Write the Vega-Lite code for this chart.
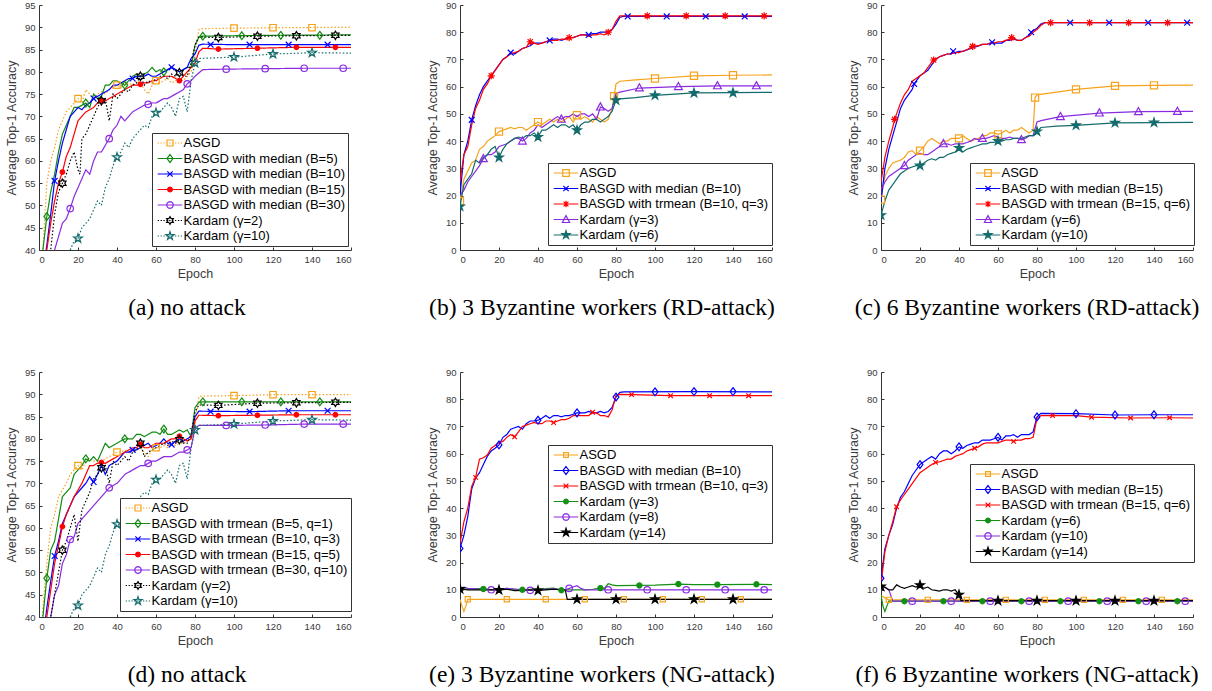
{
"$schema":"https://vega.github.io/schema/vega-lite/v6.json",
"background":"white",
"padding":{"left":5,"top":0,"right":5,"bottom":5},
"config":{"view":{"stroke":null},
"axis":{"labelFont":"Liberation Sans","labelFontSize":9.5,"labelColor":"#3a3a3a","titleFont":"Liberation Sans","titleFontSize":12.5,"titleFontWeight":"normal","titleColor":"#3a3a3a","domainColor":"#333","tickColor":"#333","tickSize":-3,"grid":false,"labelPadding":7,"titlePadding":4},
"axisY":{"titlePadding":6},
"legend":{"labelFont":"Liberation Sans","labelFontSize":13,"labelColor":"#000","labelLimit":400,"strokeColor":"#333","fillColor":"#fff","padding":3,"symbolSize":144,"symbolStrokeWidth":1.2,"rowPadding":1.5,"symbolOffset":8,"labelOffset":6.5,"orient":"none","symbolOpacity":1},
"title":{"font":"Liberation Serif","fontSize":23.5,"fontWeight":"normal","color":"#000"}},
"datasets":{
"a":[
{"s":"A","x":1,"y":30},{"s":"A","x":2,"y":40},{"s":"A","x":4,"y":55},{"s":"A","x":6,"y":60},{"s":"A","x":8,"y":63},{"s":"A","x":10,"y":67},{"s":"A","x":12,"y":69},{"s":"A","x":14,"y":71},{"s":"A","x":16,"y":72},{"s":"A","x":18,"y":73},{"s":"A","x":20,"y":74},{"s":"A","x":22,"y":73},{"s":"A","x":24,"y":76},{"s":"A","x":26,"y":75},{"s":"A","x":28,"y":74},{"s":"A","x":30,"y":75},{"s":"A","x":32,"y":75.5},{"s":"A","x":34,"y":75},{"s":"A","x":36,"y":76},{"s":"A","x":38,"y":76.5},{"s":"A","x":40,"y":77},{"s":"A","x":42,"y":76.5},{"s":"A","x":44,"y":77},{"s":"A","x":46,"y":77.5},{"s":"A","x":48,"y":77},{"s":"A","x":50,"y":78},{"s":"A","x":52,"y":77.5},{"s":"A","x":54,"y":76},{"s":"A","x":56,"y":75},{"s":"A","x":58,"y":77},{"s":"A","x":60,"y":78},{"s":"A","x":62,"y":77.5},{"s":"A","x":64,"y":78},{"s":"A","x":66,"y":78.5},{"s":"A","x":68,"y":77.5},{"s":"A","x":70,"y":78},{"s":"A","x":72,"y":78.5},{"s":"A","x":74,"y":78},{"s":"A","x":76,"y":79},{"s":"A","x":78,"y":80},{"s":"A","x":80,"y":84},{"s":"A","x":82,"y":89.5},{"s":"A","x":84,"y":89.7},{"s":"A","x":100,"y":89.8},{"s":"A","x":120,"y":89.9},{"s":"A","x":160,"y":90},
{"s":"m5","x":0,"y":30},{"s":"m5","x":2,"y":40},{"s":"m5","x":4,"y":47.5},{"s":"m5","x":6,"y":53},{"s":"m5","x":8,"y":57},{"s":"m5","x":10,"y":62},{"s":"m5","x":12,"y":66},{"s":"m5","x":14,"y":68},{"s":"m5","x":16,"y":70},{"s":"m5","x":18,"y":72},{"s":"m5","x":20,"y":72},{"s":"m5","x":22,"y":72.5},{"s":"m5","x":24,"y":73},{"s":"m5","x":26,"y":72},{"s":"m5","x":28,"y":75},{"s":"m5","x":30,"y":74},{"s":"m5","x":32,"y":74.5},{"s":"m5","x":34,"y":77},{"s":"m5","x":36,"y":77},{"s":"m5","x":38,"y":78},{"s":"m5","x":40,"y":78},{"s":"m5","x":42,"y":77.5},{"s":"m5","x":44,"y":77},{"s":"m5","x":46,"y":78},{"s":"m5","x":48,"y":79},{"s":"m5","x":50,"y":79.5},{"s":"m5","x":52,"y":79},{"s":"m5","x":54,"y":79.5},{"s":"m5","x":56,"y":80},{"s":"m5","x":58,"y":81},{"s":"m5","x":60,"y":80},{"s":"m5","x":62,"y":80.5},{"s":"m5","x":64,"y":80},{"s":"m5","x":66,"y":80.5},{"s":"m5","x":68,"y":81},{"s":"m5","x":70,"y":80.5},{"s":"m5","x":72,"y":80},{"s":"m5","x":74,"y":80.5},{"s":"m5","x":76,"y":81},{"s":"m5","x":78,"y":81},{"s":"m5","x":80,"y":86},{"s":"m5","x":82,"y":87.8},{"s":"m5","x":84,"y":88},{"s":"m5","x":100,"y":88.1},{"s":"m5","x":120,"y":88.2},{"s":"m5","x":160,"y":88.3},
{"s":"m10","x":2,"y":35},{"s":"m10","x":4,"y":41},{"s":"m10","x":6,"y":48},{"s":"m10","x":8,"y":55.5},{"s":"m10","x":10,"y":60},{"s":"m10","x":12,"y":64},{"s":"m10","x":14,"y":67},{"s":"m10","x":16,"y":70},{"s":"m10","x":18,"y":71},{"s":"m10","x":20,"y":72},{"s":"m10","x":22,"y":71.5},{"s":"m10","x":24,"y":72.5},{"s":"m10","x":26,"y":73},{"s":"m10","x":28,"y":74},{"s":"m10","x":30,"y":74.5},{"s":"m10","x":32,"y":75},{"s":"m10","x":34,"y":75.5},{"s":"m10","x":36,"y":76},{"s":"m10","x":38,"y":77},{"s":"m10","x":40,"y":77},{"s":"m10","x":42,"y":77.5},{"s":"m10","x":44,"y":78},{"s":"m10","x":46,"y":78.5},{"s":"m10","x":48,"y":78.5},{"s":"m10","x":50,"y":79},{"s":"m10","x":52,"y":79},{"s":"m10","x":54,"y":79},{"s":"m10","x":56,"y":79.5},{"s":"m10","x":58,"y":79},{"s":"m10","x":60,"y":79},{"s":"m10","x":62,"y":79.5},{"s":"m10","x":64,"y":80},{"s":"m10","x":66,"y":80.5},{"s":"m10","x":68,"y":81},{"s":"m10","x":70,"y":80.5},{"s":"m10","x":72,"y":80},{"s":"m10","x":74,"y":80.5},{"s":"m10","x":76,"y":81},{"s":"m10","x":78,"y":83},{"s":"m10","x":80,"y":84},{"s":"m10","x":82,"y":86},{"s":"m10","x":84,"y":86.2},{"s":"m10","x":100,"y":86.1},{"s":"m10","x":160,"y":86.1},
{"s":"m15","x":2,"y":32},{"s":"m15","x":4,"y":40},{"s":"m15","x":6,"y":46},{"s":"m15","x":8,"y":51},{"s":"m15","x":10,"y":55},{"s":"m15","x":12,"y":57.5},{"s":"m15","x":14,"y":61},{"s":"m15","x":16,"y":63},{"s":"m15","x":18,"y":66},{"s":"m15","x":20,"y":69},{"s":"m15","x":22,"y":70},{"s":"m15","x":24,"y":71},{"s":"m15","x":26,"y":71.5},{"s":"m15","x":28,"y":72},{"s":"m15","x":30,"y":73},{"s":"m15","x":32,"y":73.5},{"s":"m15","x":34,"y":73.5},{"s":"m15","x":36,"y":74},{"s":"m15","x":38,"y":74.5},{"s":"m15","x":40,"y":75},{"s":"m15","x":42,"y":75.5},{"s":"m15","x":44,"y":76},{"s":"m15","x":46,"y":76.5},{"s":"m15","x":48,"y":77},{"s":"m15","x":50,"y":77},{"s":"m15","x":52,"y":77.2},{"s":"m15","x":54,"y":77.5},{"s":"m15","x":56,"y":77.5},{"s":"m15","x":58,"y":78},{"s":"m15","x":60,"y":78},{"s":"m15","x":62,"y":78.5},{"s":"m15","x":64,"y":79},{"s":"m15","x":66,"y":79},{"s":"m15","x":68,"y":79},{"s":"m15","x":70,"y":78.5},{"s":"m15","x":72,"y":78},{"s":"m15","x":74,"y":79},{"s":"m15","x":76,"y":80},{"s":"m15","x":78,"y":81},{"s":"m15","x":80,"y":82},{"s":"m15","x":82,"y":84.5},{"s":"m15","x":84,"y":85.3},{"s":"m15","x":92,"y":85.1},{"s":"m15","x":112,"y":85.3},{"s":"m15","x":132,"y":85.5},{"s":"m15","x":160,"y":85.5},
{"s":"m30","x":6,"y":35},{"s":"m30","x":8,"y":40},{"s":"m30","x":10,"y":43},{"s":"m30","x":12,"y":46},{"s":"m30","x":14,"y":47},{"s":"m30","x":16,"y":49.3},{"s":"m30","x":18,"y":52},{"s":"m30","x":20,"y":54},{"s":"m30","x":22,"y":56},{"s":"m30","x":24,"y":58},{"s":"m30","x":26,"y":57},{"s":"m30","x":28,"y":60},{"s":"m30","x":30,"y":62},{"s":"m30","x":32,"y":62},{"s":"m30","x":34,"y":63.5},{"s":"m30","x":36,"y":65},{"s":"m30","x":38,"y":67},{"s":"m30","x":40,"y":68},{"s":"m30","x":42,"y":70},{"s":"m30","x":44,"y":69},{"s":"m30","x":46,"y":70},{"s":"m30","x":48,"y":71},{"s":"m30","x":50,"y":71.5},{"s":"m30","x":52,"y":72},{"s":"m30","x":54,"y":72.5},{"s":"m30","x":56,"y":72.7},{"s":"m30","x":58,"y":73},{"s":"m30","x":60,"y":73},{"s":"m30","x":62,"y":73.5},{"s":"m30","x":64,"y":74},{"s":"m30","x":66,"y":74},{"s":"m30","x":68,"y":74.5},{"s":"m30","x":70,"y":75},{"s":"m30","x":72,"y":75.5},{"s":"m30","x":74,"y":76},{"s":"m30","x":76,"y":77.3},{"s":"m30","x":78,"y":78},{"s":"m30","x":80,"y":79},{"s":"m30","x":84,"y":80.5},{"s":"m30","x":96,"y":80.6},{"s":"m30","x":116,"y":80.7},{"s":"m30","x":136,"y":80.8},{"s":"m30","x":160,"y":80.8},
{"s":"k2","x":4,"y":30},{"s":"k2","x":6,"y":40},{"s":"k2","x":8,"y":48},{"s":"k2","x":10,"y":53},{"s":"k2","x":12,"y":55},{"s":"k2","x":14,"y":57},{"s":"k2","x":16,"y":60},{"s":"k2","x":18,"y":62},{"s":"k2","x":20,"y":58},{"s":"k2","x":21,"y":57},{"s":"k2","x":22,"y":65},{"s":"k2","x":24,"y":66},{"s":"k2","x":26,"y":68},{"s":"k2","x":28,"y":70},{"s":"k2","x":30,"y":72},{"s":"k2","x":32,"y":73.5},{"s":"k2","x":34,"y":74},{"s":"k2","x":36,"y":69},{"s":"k2","x":38,"y":75},{"s":"k2","x":40,"y":74},{"s":"k2","x":42,"y":75},{"s":"k2","x":44,"y":76},{"s":"k2","x":46,"y":75.5},{"s":"k2","x":48,"y":77},{"s":"k2","x":50,"y":77.5},{"s":"k2","x":52,"y":79},{"s":"k2","x":54,"y":77},{"s":"k2","x":56,"y":78},{"s":"k2","x":58,"y":77.5},{"s":"k2","x":60,"y":78.5},{"s":"k2","x":62,"y":79},{"s":"k2","x":64,"y":79},{"s":"k2","x":66,"y":78.5},{"s":"k2","x":68,"y":79.5},{"s":"k2","x":70,"y":79},{"s":"k2","x":72,"y":79.8},{"s":"k2","x":74,"y":79},{"s":"k2","x":76,"y":79},{"s":"k2","x":78,"y":82},{"s":"k2","x":80,"y":86},{"s":"k2","x":82,"y":87.8},{"s":"k2","x":92,"y":87.7},{"s":"k2","x":112,"y":88},{"s":"k2","x":132,"y":88.1},{"s":"k2","x":160,"y":88.2},
{"s":"k10","x":14,"y":37},{"s":"k10","x":16,"y":40},{"s":"k10","x":18,"y":42},{"s":"k10","x":20,"y":42.6},{"s":"k10","x":22,"y":45},{"s":"k10","x":24,"y":46},{"s":"k10","x":26,"y":47},{"s":"k10","x":28,"y":49},{"s":"k10","x":30,"y":51},{"s":"k10","x":32,"y":50},{"s":"k10","x":34,"y":54},{"s":"k10","x":36,"y":56},{"s":"k10","x":38,"y":59},{"s":"k10","x":40,"y":60.8},{"s":"k10","x":42,"y":62},{"s":"k10","x":44,"y":64},{"s":"k10","x":46,"y":63},{"s":"k10","x":48,"y":65},{"s":"k10","x":50,"y":66},{"s":"k10","x":52,"y":67},{"s":"k10","x":54,"y":68},{"s":"k10","x":56,"y":67.5},{"s":"k10","x":58,"y":70},{"s":"k10","x":60,"y":70.8},{"s":"k10","x":62,"y":71},{"s":"k10","x":64,"y":72},{"s":"k10","x":66,"y":73},{"s":"k10","x":68,"y":72},{"s":"k10","x":70,"y":70},{"s":"k10","x":72,"y":74},{"s":"k10","x":74,"y":74.5},{"s":"k10","x":76,"y":71},{"s":"k10","x":78,"y":78},{"s":"k10","x":80,"y":82},{"s":"k10","x":82,"y":83},{"s":"k10","x":100,"y":83.3},{"s":"k10","x":120,"y":84},{"s":"k10","x":140,"y":84.3},{"s":"k10","x":160,"y":84.2}
],
"am":[
{"s":"A","x":20,"y":74},{"s":"A","x":40,"y":77},{"s":"A","x":60,"y":78},{"s":"A","x":100,"y":89.8},{"s":"A","x":120,"y":89.9},{"s":"A","x":140,"y":89.9},
{"s":"m5","x":4,"y":47.5},{"s":"m5","x":24,"y":73},{"s":"m5","x":44,"y":77},{"s":"m5","x":64,"y":80},{"s":"m5","x":84,"y":88},{"s":"m5","x":104,"y":88.1},{"s":"m5","x":124,"y":88.2},{"s":"m5","x":144,"y":88.2},
{"s":"m10","x":8,"y":55.5},{"s":"m10","x":28,"y":74},{"s":"m10","x":48,"y":78.5},{"s":"m10","x":68,"y":81},{"s":"m10","x":88,"y":86.1},{"s":"m10","x":108,"y":86.1},{"s":"m10","x":128,"y":86.1},{"s":"m10","x":148,"y":86.1},
{"s":"m15","x":12,"y":57.5},{"s":"m15","x":32,"y":73.5},{"s":"m15","x":52,"y":77.2},{"s":"m15","x":72,"y":78},{"s":"m15","x":92,"y":85.1},{"s":"m15","x":112,"y":85.3},{"s":"m15","x":132,"y":85.5},{"s":"m15","x":152,"y":85.5},
{"s":"m30","x":16,"y":49.3},{"s":"m30","x":36,"y":65},{"s":"m30","x":56,"y":72.7},{"s":"m30","x":76,"y":77.3},{"s":"m30","x":96,"y":80.6},{"s":"m30","x":116,"y":80.7},{"s":"m30","x":136,"y":80.8},{"s":"m30","x":156,"y":80.8},
{"s":"k2","x":12,"y":55},{"s":"k2","x":32,"y":73.5},{"s":"k2","x":52,"y":79},{"s":"k2","x":72,"y":79.8},{"s":"k2","x":92,"y":87.7},{"s":"k2","x":112,"y":88},{"s":"k2","x":132,"y":88.1},{"s":"k2","x":152,"y":88.2},
{"s":"k10","x":20,"y":42.6},{"s":"k10","x":40,"y":60.8},{"s":"k10","x":60,"y":70.8},{"s":"k10","x":80,"y":82},{"s":"k10","x":100,"y":83.3},{"s":"k10","x":120,"y":84},{"s":"k10","x":140,"y":84.3}
],
"d":[
{"s":"A","x":1,"y":30},{"s":"A","x":2,"y":42},{"s":"A","x":4,"y":52},{"s":"A","x":6,"y":60},{"s":"A","x":8,"y":63},{"s":"A","x":10,"y":67},{"s":"A","x":12,"y":68.5},{"s":"A","x":14,"y":70},{"s":"A","x":16,"y":72},{"s":"A","x":18,"y":73},{"s":"A","x":20,"y":74},{"s":"A","x":22,"y":73},{"s":"A","x":24,"y":75},{"s":"A","x":26,"y":75.5},{"s":"A","x":28,"y":75},{"s":"A","x":30,"y":75},{"s":"A","x":32,"y":75},{"s":"A","x":34,"y":75.5},{"s":"A","x":36,"y":76},{"s":"A","x":38,"y":76.5},{"s":"A","x":40,"y":77},{"s":"A","x":42,"y":77},{"s":"A","x":44,"y":77.5},{"s":"A","x":46,"y":77},{"s":"A","x":48,"y":77},{"s":"A","x":50,"y":77.5},{"s":"A","x":52,"y":78},{"s":"A","x":54,"y":77},{"s":"A","x":56,"y":76},{"s":"A","x":58,"y":77.5},{"s":"A","x":60,"y":78},{"s":"A","x":62,"y":78},{"s":"A","x":64,"y":78.5},{"s":"A","x":66,"y":78},{"s":"A","x":68,"y":79},{"s":"A","x":70,"y":78.5},{"s":"A","x":72,"y":79},{"s":"A","x":74,"y":79},{"s":"A","x":76,"y":79.5},{"s":"A","x":78,"y":80},{"s":"A","x":80,"y":83},{"s":"A","x":82,"y":89.5},{"s":"A","x":84,"y":89.6},{"s":"A","x":100,"y":89.7},{"s":"A","x":120,"y":89.9},{"s":"A","x":160,"y":89.9},
{"s":"t5","x":1,"y":35},{"s":"t5","x":2,"y":40},{"s":"t5","x":4,"y":48.7},{"s":"t5","x":6,"y":55},{"s":"t5","x":8,"y":57},{"s":"t5","x":10,"y":62},{"s":"t5","x":12,"y":67},{"s":"t5","x":14,"y":68},{"s":"t5","x":16,"y":69},{"s":"t5","x":18,"y":72},{"s":"t5","x":20,"y":73},{"s":"t5","x":22,"y":74},{"s":"t5","x":24,"y":75.5},{"s":"t5","x":26,"y":75},{"s":"t5","x":28,"y":76},{"s":"t5","x":30,"y":75},{"s":"t5","x":32,"y":77},{"s":"t5","x":34,"y":79},{"s":"t5","x":36,"y":78},{"s":"t5","x":38,"y":78.5},{"s":"t5","x":40,"y":79},{"s":"t5","x":42,"y":79.5},{"s":"t5","x":44,"y":80},{"s":"t5","x":46,"y":80},{"s":"t5","x":48,"y":80},{"s":"t5","x":50,"y":81},{"s":"t5","x":52,"y":81},{"s":"t5","x":54,"y":80.5},{"s":"t5","x":56,"y":81},{"s":"t5","x":58,"y":81.5},{"s":"t5","x":60,"y":81.5},{"s":"t5","x":62,"y":81},{"s":"t5","x":64,"y":82.2},{"s":"t5","x":66,"y":81},{"s":"t5","x":68,"y":81},{"s":"t5","x":70,"y":81.5},{"s":"t5","x":72,"y":82},{"s":"t5","x":74,"y":81.5},{"s":"t5","x":76,"y":82},{"s":"t5","x":78,"y":80.5},{"s":"t5","x":80,"y":87},{"s":"t5","x":82,"y":88.2},{"s":"t5","x":84,"y":88.3},{"s":"t5","x":160,"y":88.3},
{"s":"t10","x":2,"y":35},{"s":"t10","x":4,"y":42},{"s":"t10","x":6,"y":48},{"s":"t10","x":8,"y":53.7},{"s":"t10","x":10,"y":57},{"s":"t10","x":12,"y":61},{"s":"t10","x":14,"y":63},{"s":"t10","x":16,"y":65},{"s":"t10","x":18,"y":67},{"s":"t10","x":20,"y":68},{"s":"t10","x":22,"y":69},{"s":"t10","x":24,"y":70},{"s":"t10","x":26,"y":71.5},{"s":"t10","x":28,"y":70.3},{"s":"t10","x":30,"y":72},{"s":"t10","x":32,"y":74},{"s":"t10","x":34,"y":72},{"s":"t10","x":36,"y":74},{"s":"t10","x":38,"y":74.5},{"s":"t10","x":40,"y":75},{"s":"t10","x":42,"y":76},{"s":"t10","x":44,"y":77},{"s":"t10","x":46,"y":77},{"s":"t10","x":48,"y":77.5},{"s":"t10","x":50,"y":77.5},{"s":"t10","x":52,"y":78},{"s":"t10","x":54,"y":78.5},{"s":"t10","x":56,"y":79},{"s":"t10","x":58,"y":78},{"s":"t10","x":60,"y":78.5},{"s":"t10","x":62,"y":79},{"s":"t10","x":64,"y":80},{"s":"t10","x":66,"y":79},{"s":"t10","x":68,"y":78.7},{"s":"t10","x":70,"y":79.5},{"s":"t10","x":72,"y":80},{"s":"t10","x":74,"y":79.5},{"s":"t10","x":76,"y":80},{"s":"t10","x":78,"y":80.5},{"s":"t10","x":80,"y":85},{"s":"t10","x":82,"y":86.2},{"s":"t10","x":108,"y":86.1},{"s":"t10","x":128,"y":86.3},{"s":"t10","x":160,"y":86.3},
{"s":"t15","x":2,"y":32},{"s":"t15","x":4,"y":40},{"s":"t15","x":6,"y":46},{"s":"t15","x":8,"y":52},{"s":"t15","x":10,"y":56},{"s":"t15","x":12,"y":60.3},{"s":"t15","x":14,"y":63},{"s":"t15","x":16,"y":65},{"s":"t15","x":18,"y":67},{"s":"t15","x":20,"y":68.5},{"s":"t15","x":22,"y":70},{"s":"t15","x":24,"y":72},{"s":"t15","x":26,"y":74},{"s":"t15","x":28,"y":74},{"s":"t15","x":30,"y":74.5},{"s":"t15","x":32,"y":74.7},{"s":"t15","x":34,"y":74.5},{"s":"t15","x":36,"y":75},{"s":"t15","x":38,"y":75.5},{"s":"t15","x":40,"y":76},{"s":"t15","x":42,"y":76.5},{"s":"t15","x":44,"y":77},{"s":"t15","x":46,"y":77.5},{"s":"t15","x":48,"y":78},{"s":"t15","x":50,"y":78},{"s":"t15","x":52,"y":78.8},{"s":"t15","x":54,"y":78},{"s":"t15","x":56,"y":78},{"s":"t15","x":58,"y":78.5},{"s":"t15","x":60,"y":79},{"s":"t15","x":62,"y":79},{"s":"t15","x":64,"y":79},{"s":"t15","x":66,"y":79.5},{"s":"t15","x":68,"y":80},{"s":"t15","x":70,"y":80},{"s":"t15","x":72,"y":80.6},{"s":"t15","x":74,"y":80},{"s":"t15","x":76,"y":79.5},{"s":"t15","x":78,"y":80},{"s":"t15","x":80,"y":84},{"s":"t15","x":82,"y":85.3},{"s":"t15","x":92,"y":85.2},{"s":"t15","x":112,"y":85.3},{"s":"t15","x":132,"y":85.4},{"s":"t15","x":160,"y":85.4},
{"s":"t30","x":4,"y":35},{"s":"t30","x":6,"y":40},{"s":"t30","x":8,"y":45},{"s":"t30","x":10,"y":47},{"s":"t30","x":12,"y":52},{"s":"t30","x":14,"y":54},{"s":"t30","x":16,"y":57.4},{"s":"t30","x":18,"y":58},{"s":"t30","x":20,"y":61},{"s":"t30","x":22,"y":62},{"s":"t30","x":24,"y":63},{"s":"t30","x":26,"y":64},{"s":"t30","x":28,"y":65},{"s":"t30","x":30,"y":66},{"s":"t30","x":32,"y":67},{"s":"t30","x":34,"y":68},{"s":"t30","x":36,"y":69},{"s":"t30","x":38,"y":69.5},{"s":"t30","x":40,"y":70},{"s":"t30","x":42,"y":71},{"s":"t30","x":44,"y":72},{"s":"t30","x":46,"y":72.5},{"s":"t30","x":48,"y":73},{"s":"t30","x":50,"y":73.5},{"s":"t30","x":52,"y":74},{"s":"t30","x":54,"y":74},{"s":"t30","x":56,"y":74.5},{"s":"t30","x":58,"y":75},{"s":"t30","x":60,"y":75},{"s":"t30","x":62,"y":75.5},{"s":"t30","x":64,"y":76},{"s":"t30","x":66,"y":76},{"s":"t30","x":68,"y":76},{"s":"t30","x":70,"y":76.5},{"s":"t30","x":72,"y":77},{"s":"t30","x":74,"y":77},{"s":"t30","x":76,"y":77.5},{"s":"t30","x":78,"y":78},{"s":"t30","x":80,"y":82.5},{"s":"t30","x":82,"y":83},{"s":"t30","x":96,"y":83},{"s":"t30","x":116,"y":83.1},{"s":"t30","x":136,"y":83.3},{"s":"t30","x":160,"y":83.3},
{"s":"k2","x":4,"y":30},{"s":"k2","x":6,"y":40},{"s":"k2","x":8,"y":45},{"s":"k2","x":10,"y":50},{"s":"k2","x":12,"y":55},{"s":"k2","x":14,"y":57},{"s":"k2","x":16,"y":60},{"s":"k2","x":18,"y":63},{"s":"k2","x":20,"y":57},{"s":"k2","x":22,"y":64},{"s":"k2","x":24,"y":66},{"s":"k2","x":26,"y":68},{"s":"k2","x":28,"y":71},{"s":"k2","x":30,"y":72},{"s":"k2","x":32,"y":73.5},{"s":"k2","x":34,"y":74},{"s":"k2","x":36,"y":70},{"s":"k2","x":38,"y":75},{"s":"k2","x":40,"y":74},{"s":"k2","x":42,"y":75},{"s":"k2","x":44,"y":76},{"s":"k2","x":46,"y":75},{"s":"k2","x":48,"y":77},{"s":"k2","x":50,"y":77.5},{"s":"k2","x":52,"y":79},{"s":"k2","x":54,"y":76},{"s":"k2","x":56,"y":77},{"s":"k2","x":58,"y":77.5},{"s":"k2","x":60,"y":78},{"s":"k2","x":62,"y":78.5},{"s":"k2","x":64,"y":79},{"s":"k2","x":66,"y":78.5},{"s":"k2","x":68,"y":79.5},{"s":"k2","x":70,"y":79},{"s":"k2","x":72,"y":79.8},{"s":"k2","x":74,"y":79},{"s":"k2","x":76,"y":79},{"s":"k2","x":78,"y":81},{"s":"k2","x":80,"y":86},{"s":"k2","x":82,"y":87.6},{"s":"k2","x":92,"y":87.5},{"s":"k2","x":112,"y":88},{"s":"k2","x":132,"y":88.1},{"s":"k2","x":160,"y":88.2},
{"s":"k10","x":14,"y":37},{"s":"k10","x":16,"y":40},{"s":"k10","x":18,"y":42},{"s":"k10","x":20,"y":42.6},{"s":"k10","x":22,"y":45},{"s":"k10","x":24,"y":46},{"s":"k10","x":26,"y":47},{"s":"k10","x":28,"y":49},{"s":"k10","x":30,"y":51},{"s":"k10","x":32,"y":50},{"s":"k10","x":34,"y":54},{"s":"k10","x":36,"y":56},{"s":"k10","x":38,"y":59},{"s":"k10","x":40,"y":60.8},{"s":"k10","x":42,"y":62},{"s":"k10","x":44,"y":64},{"s":"k10","x":46,"y":63},{"s":"k10","x":48,"y":65},{"s":"k10","x":50,"y":66},{"s":"k10","x":52,"y":67},{"s":"k10","x":54,"y":68},{"s":"k10","x":56,"y":67.5},{"s":"k10","x":58,"y":70},{"s":"k10","x":60,"y":70.8},{"s":"k10","x":62,"y":71},{"s":"k10","x":64,"y":72},{"s":"k10","x":66,"y":73},{"s":"k10","x":68,"y":72},{"s":"k10","x":70,"y":70},{"s":"k10","x":72,"y":74},{"s":"k10","x":74,"y":74.5},{"s":"k10","x":76,"y":71},{"s":"k10","x":78,"y":78},{"s":"k10","x":80,"y":82},{"s":"k10","x":82,"y":83},{"s":"k10","x":100,"y":83.3},{"s":"k10","x":120,"y":84},{"s":"k10","x":140,"y":84.3},{"s":"k10","x":160,"y":84.2}
],
"dm":[
{"s":"A","x":20,"y":74},{"s":"A","x":40,"y":77},{"s":"A","x":60,"y":78},{"s":"A","x":100,"y":89.7},{"s":"A","x":120,"y":89.9},{"s":"A","x":140,"y":89.9},
{"s":"t5","x":4,"y":48.7},{"s":"t5","x":24,"y":75.5},{"s":"t5","x":44,"y":80},{"s":"t5","x":64,"y":82.2},{"s":"t5","x":84,"y":88.3},{"s":"t5","x":104,"y":88.3},{"s":"t5","x":124,"y":88.3},{"s":"t5","x":144,"y":88.3},
{"s":"t10","x":8,"y":53.7},{"s":"t10","x":28,"y":70.3},{"s":"t10","x":48,"y":77.5},{"s":"t10","x":68,"y":78.7},{"s":"t10","x":88,"y":86.1},{"s":"t10","x":108,"y":86.1},{"s":"t10","x":128,"y":86.3},{"s":"t10","x":148,"y":86.3},
{"s":"t15","x":12,"y":60.3},{"s":"t15","x":32,"y":74.7},{"s":"t15","x":52,"y":78.8},{"s":"t15","x":72,"y":80.6},{"s":"t15","x":92,"y":85.2},{"s":"t15","x":112,"y":85.3},{"s":"t15","x":132,"y":85.4},{"s":"t15","x":152,"y":85.4},
{"s":"t30","x":16,"y":57.4},{"s":"t30","x":36,"y":69},{"s":"t30","x":56,"y":74.5},{"s":"t30","x":76,"y":77.5},{"s":"t30","x":96,"y":83},{"s":"t30","x":116,"y":83.1},{"s":"t30","x":136,"y":83.3},{"s":"t30","x":156,"y":83.3},
{"s":"k2","x":12,"y":55},{"s":"k2","x":32,"y":73.5},{"s":"k2","x":52,"y":79},{"s":"k2","x":72,"y":79.8},{"s":"k2","x":92,"y":87.5},{"s":"k2","x":112,"y":88},{"s":"k2","x":132,"y":88.1},{"s":"k2","x":152,"y":88.2},
{"s":"k10","x":20,"y":42.6},{"s":"k10","x":40,"y":60.8},{"s":"k10","x":60,"y":70.8},{"s":"k10","x":80,"y":82},{"s":"k10","x":100,"y":83.3},{"s":"k10","x":120,"y":84},{"s":"k10","x":140,"y":84.3}
],
"b":[
{"s":"A","x":0,"y":18},{"s":"A","x":2,"y":26},{"s":"A","x":4,"y":29},{"s":"A","x":6,"y":32},{"s":"A","x":8,"y":33},{"s":"A","x":10,"y":37},{"s":"A","x":12,"y":38},{"s":"A","x":14,"y":40},{"s":"A","x":16,"y":41},{"s":"A","x":18,"y":42},{"s":"A","x":20,"y":43.5},{"s":"A","x":22,"y":44},{"s":"A","x":24,"y":44.5},{"s":"A","x":26,"y":45},{"s":"A","x":28,"y":44.5},{"s":"A","x":30,"y":45},{"s":"A","x":32,"y":45},{"s":"A","x":34,"y":44},{"s":"A","x":36,"y":45},{"s":"A","x":38,"y":46},{"s":"A","x":40,"y":47},{"s":"A","x":42,"y":46},{"s":"A","x":44,"y":47},{"s":"A","x":46,"y":48},{"s":"A","x":48,"y":47},{"s":"A","x":50,"y":48},{"s":"A","x":52,"y":47},{"s":"A","x":54,"y":48},{"s":"A","x":56,"y":49},{"s":"A","x":58,"y":47},{"s":"A","x":60,"y":49.5},{"s":"A","x":62,"y":48},{"s":"A","x":64,"y":49},{"s":"A","x":66,"y":48},{"s":"A","x":68,"y":47},{"s":"A","x":70,"y":49},{"s":"A","x":72,"y":48},{"s":"A","x":74,"y":47},{"s":"A","x":76,"y":48},{"s":"A","x":78,"y":52},{"s":"A","x":79,"y":56.5},{"s":"A","x":80,"y":61},{"s":"A","x":82,"y":62},{"s":"A","x":90,"y":62.5},{"s":"A","x":100,"y":63},{"s":"A","x":120,"y":64},{"s":"A","x":140,"y":64.2},{"s":"A","x":160,"y":64.3},
{"s":"m10","x":0,"y":20},{"s":"m10","x":2,"y":35},{"s":"m10","x":4,"y":40},{"s":"m10","x":6,"y":47.8},{"s":"m10","x":8,"y":53},{"s":"m10","x":10,"y":57},{"s":"m10","x":12,"y":60},{"s":"m10","x":14,"y":62},{"s":"m10","x":16,"y":64},{"s":"m10","x":18,"y":66},{"s":"m10","x":20,"y":68},{"s":"m10","x":22,"y":70},{"s":"m10","x":24,"y":71},{"s":"m10","x":26,"y":72.5},{"s":"m10","x":28,"y":72},{"s":"m10","x":30,"y":73},{"s":"m10","x":32,"y":74},{"s":"m10","x":34,"y":74.5},{"s":"m10","x":36,"y":75},{"s":"m10","x":38,"y":76},{"s":"m10","x":40,"y":76},{"s":"m10","x":42,"y":76},{"s":"m10","x":44,"y":76.5},{"s":"m10","x":46,"y":77},{"s":"m10","x":48,"y":77.5},{"s":"m10","x":50,"y":77.5},{"s":"m10","x":52,"y":77},{"s":"m10","x":54,"y":77.5},{"s":"m10","x":56,"y":78},{"s":"m10","x":58,"y":78},{"s":"m10","x":60,"y":78.5},{"s":"m10","x":62,"y":79},{"s":"m10","x":64,"y":79},{"s":"m10","x":66,"y":79},{"s":"m10","x":68,"y":79.5},{"s":"m10","x":70,"y":79.5},{"s":"m10","x":72,"y":80},{"s":"m10","x":74,"y":80},{"s":"m10","x":76,"y":80},{"s":"m10","x":78,"y":81},{"s":"m10","x":80,"y":83},{"s":"m10","x":82,"y":85.5},{"s":"m10","x":84,"y":85.8},{"s":"m10","x":160,"y":85.8},
{"s":"t10","x":0,"y":25},{"s":"t10","x":2,"y":35},{"s":"t10","x":4,"y":38},{"s":"t10","x":6,"y":46},{"s":"t10","x":8,"y":52},{"s":"t10","x":10,"y":55},{"s":"t10","x":12,"y":59},{"s":"t10","x":14,"y":61},{"s":"t10","x":16,"y":64},{"s":"t10","x":18,"y":66},{"s":"t10","x":20,"y":68},{"s":"t10","x":22,"y":70},{"s":"t10","x":24,"y":71},{"s":"t10","x":26,"y":72},{"s":"t10","x":28,"y":72.5},{"s":"t10","x":30,"y":73},{"s":"t10","x":32,"y":74},{"s":"t10","x":34,"y":74.5},{"s":"t10","x":36,"y":76.5},{"s":"t10","x":38,"y":76},{"s":"t10","x":40,"y":75.5},{"s":"t10","x":42,"y":76},{"s":"t10","x":44,"y":76.5},{"s":"t10","x":46,"y":77},{"s":"t10","x":48,"y":77},{"s":"t10","x":50,"y":77},{"s":"t10","x":52,"y":77.5},{"s":"t10","x":54,"y":77.5},{"s":"t10","x":56,"y":78},{"s":"t10","x":58,"y":78},{"s":"t10","x":60,"y":78.5},{"s":"t10","x":62,"y":79},{"s":"t10","x":64,"y":79},{"s":"t10","x":66,"y":78.5},{"s":"t10","x":68,"y":79},{"s":"t10","x":70,"y":79},{"s":"t10","x":72,"y":79.5},{"s":"t10","x":74,"y":79},{"s":"t10","x":76,"y":80},{"s":"t10","x":78,"y":81},{"s":"t10","x":80,"y":84},{"s":"t10","x":82,"y":86},{"s":"t10","x":160,"y":86},
{"s":"k3","x":0,"y":20},{"s":"k3","x":2,"y":22},{"s":"k3","x":4,"y":25},{"s":"k3","x":6,"y":27},{"s":"k3","x":8,"y":29},{"s":"k3","x":10,"y":31},{"s":"k3","x":12,"y":33.5},{"s":"k3","x":14,"y":35},{"s":"k3","x":16,"y":35},{"s":"k3","x":18,"y":36},{"s":"k3","x":20,"y":38},{"s":"k3","x":22,"y":38.5},{"s":"k3","x":24,"y":39},{"s":"k3","x":26,"y":40},{"s":"k3","x":28,"y":41},{"s":"k3","x":30,"y":41},{"s":"k3","x":32,"y":40},{"s":"k3","x":34,"y":41},{"s":"k3","x":36,"y":43},{"s":"k3","x":38,"y":44},{"s":"k3","x":40,"y":46},{"s":"k3","x":42,"y":45},{"s":"k3","x":44,"y":46},{"s":"k3","x":46,"y":47},{"s":"k3","x":48,"y":48},{"s":"k3","x":50,"y":49},{"s":"k3","x":52,"y":48},{"s":"k3","x":54,"y":49},{"s":"k3","x":56,"y":49},{"s":"k3","x":58,"y":50},{"s":"k3","x":60,"y":49},{"s":"k3","x":62,"y":50},{"s":"k3","x":64,"y":50},{"s":"k3","x":66,"y":49},{"s":"k3","x":68,"y":50},{"s":"k3","x":70,"y":48},{"s":"k3","x":72,"y":52.5},{"s":"k3","x":74,"y":52},{"s":"k3","x":76,"y":51},{"s":"k3","x":78,"y":52},{"s":"k3","x":80,"y":57.5},{"s":"k3","x":82,"y":58},{"s":"k3","x":92,"y":59.5},{"s":"k3","x":112,"y":60},{"s":"k3","x":132,"y":60.3},{"s":"k3","x":160,"y":60.3},
{"s":"k6","x":0,"y":16},{"s":"k6","x":2,"y":24},{"s":"k6","x":4,"y":26},{"s":"k6","x":6,"y":28},{"s":"k6","x":8,"y":33},{"s":"k6","x":10,"y":32},{"s":"k6","x":12,"y":34},{"s":"k6","x":14,"y":35},{"s":"k6","x":16,"y":37},{"s":"k6","x":18,"y":38},{"s":"k6","x":20,"y":34},{"s":"k6","x":22,"y":37},{"s":"k6","x":24,"y":39},{"s":"k6","x":26,"y":40},{"s":"k6","x":28,"y":41},{"s":"k6","x":30,"y":41.5},{"s":"k6","x":32,"y":41},{"s":"k6","x":34,"y":42},{"s":"k6","x":36,"y":42},{"s":"k6","x":38,"y":43},{"s":"k6","x":40,"y":41.5},{"s":"k6","x":42,"y":44},{"s":"k6","x":44,"y":44},{"s":"k6","x":46,"y":45},{"s":"k6","x":48,"y":46},{"s":"k6","x":50,"y":45},{"s":"k6","x":52,"y":46},{"s":"k6","x":54,"y":46},{"s":"k6","x":56,"y":45},{"s":"k6","x":58,"y":46},{"s":"k6","x":60,"y":44},{"s":"k6","x":62,"y":46},{"s":"k6","x":64,"y":47},{"s":"k6","x":66,"y":47},{"s":"k6","x":68,"y":48},{"s":"k6","x":70,"y":48},{"s":"k6","x":72,"y":47},{"s":"k6","x":74,"y":48},{"s":"k6","x":76,"y":49},{"s":"k6","x":78,"y":51},{"s":"k6","x":80,"y":55},{"s":"k6","x":82,"y":55.5},{"s":"k6","x":90,"y":56},{"s":"k6","x":100,"y":56.8},{"s":"k6","x":120,"y":57.7},{"s":"k6","x":140,"y":57.8},{"s":"k6","x":160,"y":57.9}
],
"bm":[
{"s":"A","x":0,"y":18},{"s":"A","x":20,"y":43.5},{"s":"A","x":40,"y":47},{"s":"A","x":60,"y":49.5},{"s":"A","x":79,"y":56.5},{"s":"A","x":100,"y":63},{"s":"A","x":120,"y":64},{"s":"A","x":140,"y":64.2},
{"s":"m10","x":6,"y":47.8},{"s":"m10","x":26,"y":72.5},{"s":"m10","x":46,"y":77},{"s":"m10","x":66,"y":79},{"s":"m10","x":86,"y":85.8},{"s":"m10","x":106,"y":85.8},{"s":"m10","x":126,"y":85.8},{"s":"m10","x":146,"y":85.8},
{"s":"t10","x":16,"y":64},{"s":"t10","x":36,"y":76.5},{"s":"t10","x":56,"y":78},{"s":"t10","x":76,"y":80},{"s":"t10","x":96,"y":86},{"s":"t10","x":116,"y":86},{"s":"t10","x":136,"y":86},{"s":"t10","x":156,"y":86},
{"s":"k3","x":12,"y":33.5},{"s":"k3","x":32,"y":40},{"s":"k3","x":52,"y":48},{"s":"k3","x":72,"y":52.5},{"s":"k3","x":92,"y":59.5},{"s":"k3","x":112,"y":60},{"s":"k3","x":132,"y":60.3},{"s":"k3","x":152,"y":60.3},
{"s":"k6","x":0,"y":16},{"s":"k6","x":20,"y":34},{"s":"k6","x":40,"y":41.5},{"s":"k6","x":60,"y":44},{"s":"k6","x":80,"y":55},{"s":"k6","x":100,"y":56.8},{"s":"k6","x":120,"y":57.7},{"s":"k6","x":140,"y":57.8}
],
"c":[
{"s":"A","x":0,"y":18.5},{"s":"A","x":2,"y":27},{"s":"A","x":4,"y":30},{"s":"A","x":6,"y":32},{"s":"A","x":8,"y":32.5},{"s":"A","x":10,"y":33},{"s":"A","x":12,"y":34},{"s":"A","x":14,"y":36},{"s":"A","x":16,"y":36.5},{"s":"A","x":18,"y":35},{"s":"A","x":20,"y":36.5},{"s":"A","x":22,"y":38},{"s":"A","x":24,"y":40},{"s":"A","x":26,"y":41},{"s":"A","x":28,"y":40},{"s":"A","x":30,"y":39},{"s":"A","x":32,"y":40},{"s":"A","x":34,"y":40},{"s":"A","x":36,"y":41},{"s":"A","x":38,"y":41},{"s":"A","x":40,"y":41},{"s":"A","x":42,"y":42},{"s":"A","x":44,"y":41},{"s":"A","x":46,"y":40},{"s":"A","x":48,"y":40.5},{"s":"A","x":50,"y":41},{"s":"A","x":52,"y":42},{"s":"A","x":54,"y":42},{"s":"A","x":56,"y":43},{"s":"A","x":58,"y":43},{"s":"A","x":60,"y":42.5},{"s":"A","x":62,"y":43},{"s":"A","x":64,"y":44},{"s":"A","x":66,"y":43},{"s":"A","x":68,"y":44},{"s":"A","x":70,"y":44},{"s":"A","x":72,"y":45},{"s":"A","x":74,"y":44},{"s":"A","x":76,"y":43},{"s":"A","x":78,"y":44},{"s":"A","x":79,"y":56},{"s":"A","x":80,"y":57},{"s":"A","x":90,"y":58},{"s":"A","x":100,"y":59},{"s":"A","x":120,"y":60.3},{"s":"A","x":140,"y":60.5},{"s":"A","x":160,"y":60.6},
{"s":"m15","x":0,"y":18},{"s":"m15","x":2,"y":30},{"s":"m15","x":4,"y":37},{"s":"m15","x":6,"y":42},{"s":"m15","x":8,"y":47},{"s":"m15","x":10,"y":52},{"s":"m15","x":12,"y":55},{"s":"m15","x":14,"y":57},{"s":"m15","x":16,"y":59},{"s":"m15","x":17,"y":61},{"s":"m15","x":18,"y":62},{"s":"m15","x":20,"y":64},{"s":"m15","x":22,"y":65},{"s":"m15","x":24,"y":66},{"s":"m15","x":26,"y":68},{"s":"m15","x":28,"y":70},{"s":"m15","x":30,"y":71},{"s":"m15","x":32,"y":71.5},{"s":"m15","x":34,"y":72},{"s":"m15","x":36,"y":72},{"s":"m15","x":37,"y":73},{"s":"m15","x":38,"y":72.5},{"s":"m15","x":40,"y":73},{"s":"m15","x":42,"y":73},{"s":"m15","x":44,"y":73.5},{"s":"m15","x":46,"y":74},{"s":"m15","x":48,"y":74.5},{"s":"m15","x":50,"y":75},{"s":"m15","x":52,"y":75.5},{"s":"m15","x":54,"y":75.5},{"s":"m15","x":56,"y":76},{"s":"m15","x":57,"y":76.3},{"s":"m15","x":58,"y":76},{"s":"m15","x":60,"y":76},{"s":"m15","x":62,"y":76},{"s":"m15","x":64,"y":77},{"s":"m15","x":66,"y":77},{"s":"m15","x":68,"y":77.5},{"s":"m15","x":70,"y":77},{"s":"m15","x":72,"y":77},{"s":"m15","x":74,"y":78},{"s":"m15","x":76,"y":79},{"s":"m15","x":77,"y":80},{"s":"m15","x":78,"y":80.5},{"s":"m15","x":80,"y":81.5},{"s":"m15","x":82,"y":83},{"s":"m15","x":84,"y":83.5},{"s":"m15","x":160,"y":83.5},
{"s":"t15","x":0,"y":25},{"s":"t15","x":2,"y":34},{"s":"t15","x":4,"y":40},{"s":"t15","x":6,"y":45},{"s":"t15","x":7,"y":48},{"s":"t15","x":8,"y":50},{"s":"t15","x":10,"y":54},{"s":"t15","x":12,"y":57},{"s":"t15","x":14,"y":59},{"s":"t15","x":16,"y":62},{"s":"t15","x":18,"y":63},{"s":"t15","x":20,"y":64},{"s":"t15","x":22,"y":65},{"s":"t15","x":24,"y":67},{"s":"t15","x":26,"y":69},{"s":"t15","x":27,"y":69.8},{"s":"t15","x":28,"y":70},{"s":"t15","x":30,"y":71},{"s":"t15","x":32,"y":71.5},{"s":"t15","x":34,"y":72},{"s":"t15","x":36,"y":72},{"s":"t15","x":38,"y":72.5},{"s":"t15","x":40,"y":72.5},{"s":"t15","x":42,"y":73},{"s":"t15","x":44,"y":73.5},{"s":"t15","x":46,"y":74.5},{"s":"t15","x":47,"y":74.8},{"s":"t15","x":48,"y":75},{"s":"t15","x":50,"y":75},{"s":"t15","x":52,"y":75.5},{"s":"t15","x":54,"y":75.5},{"s":"t15","x":56,"y":76},{"s":"t15","x":58,"y":76},{"s":"t15","x":60,"y":76.5},{"s":"t15","x":62,"y":76.5},{"s":"t15","x":64,"y":77},{"s":"t15","x":66,"y":77.5},{"s":"t15","x":67,"y":78},{"s":"t15","x":68,"y":78},{"s":"t15","x":70,"y":77},{"s":"t15","x":72,"y":77},{"s":"t15","x":74,"y":78},{"s":"t15","x":76,"y":78.5},{"s":"t15","x":78,"y":80},{"s":"t15","x":80,"y":81},{"s":"t15","x":82,"y":82.5},{"s":"t15","x":84,"y":83.5},{"s":"t15","x":160,"y":83.5},
{"s":"k6","x":0,"y":22},{"s":"k6","x":2,"y":25},{"s":"k6","x":4,"y":27},{"s":"k6","x":6,"y":28},{"s":"k6","x":8,"y":29},{"s":"k6","x":10,"y":30},{"s":"k6","x":12,"y":31},{"s":"k6","x":14,"y":33},{"s":"k6","x":16,"y":34},{"s":"k6","x":18,"y":35},{"s":"k6","x":20,"y":35.5},{"s":"k6","x":22,"y":35},{"s":"k6","x":24,"y":35},{"s":"k6","x":26,"y":36},{"s":"k6","x":28,"y":37},{"s":"k6","x":30,"y":38},{"s":"k6","x":32,"y":39},{"s":"k6","x":34,"y":39},{"s":"k6","x":36,"y":38.5},{"s":"k6","x":38,"y":39},{"s":"k6","x":40,"y":39},{"s":"k6","x":42,"y":39},{"s":"k6","x":44,"y":39.5},{"s":"k6","x":46,"y":40},{"s":"k6","x":48,"y":41},{"s":"k6","x":50,"y":40.5},{"s":"k6","x":52,"y":41},{"s":"k6","x":54,"y":41},{"s":"k6","x":56,"y":41.5},{"s":"k6","x":58,"y":42},{"s":"k6","x":60,"y":41.5},{"s":"k6","x":62,"y":41},{"s":"k6","x":64,"y":41},{"s":"k6","x":66,"y":41.5},{"s":"k6","x":68,"y":41},{"s":"k6","x":70,"y":41},{"s":"k6","x":72,"y":40.5},{"s":"k6","x":74,"y":41},{"s":"k6","x":76,"y":42},{"s":"k6","x":78,"y":42},{"s":"k6","x":80,"y":47},{"s":"k6","x":82,"y":47.5},{"s":"k6","x":92,"y":49},{"s":"k6","x":112,"y":50.3},{"s":"k6","x":132,"y":50.8},{"s":"k6","x":160,"y":50.9},
{"s":"k10","x":0,"y":12.8},{"s":"k10","x":2,"y":18},{"s":"k10","x":4,"y":22},{"s":"k10","x":6,"y":24},{"s":"k10","x":8,"y":26},{"s":"k10","x":10,"y":28},{"s":"k10","x":12,"y":29},{"s":"k10","x":14,"y":30},{"s":"k10","x":16,"y":30.5},{"s":"k10","x":18,"y":31},{"s":"k10","x":20,"y":31},{"s":"k10","x":22,"y":32},{"s":"k10","x":24,"y":33},{"s":"k10","x":26,"y":33.5},{"s":"k10","x":28,"y":33},{"s":"k10","x":30,"y":34},{"s":"k10","x":32,"y":34},{"s":"k10","x":34,"y":35},{"s":"k10","x":36,"y":35.5},{"s":"k10","x":38,"y":36},{"s":"k10","x":40,"y":37.5},{"s":"k10","x":42,"y":36},{"s":"k10","x":44,"y":37},{"s":"k10","x":46,"y":37.5},{"s":"k10","x":48,"y":38},{"s":"k10","x":50,"y":38.5},{"s":"k10","x":52,"y":39},{"s":"k10","x":54,"y":39},{"s":"k10","x":56,"y":39.5},{"s":"k10","x":58,"y":39.5},{"s":"k10","x":60,"y":40},{"s":"k10","x":62,"y":40},{"s":"k10","x":64,"y":40.5},{"s":"k10","x":66,"y":40.5},{"s":"k10","x":68,"y":41},{"s":"k10","x":70,"y":41},{"s":"k10","x":72,"y":41},{"s":"k10","x":74,"y":41.5},{"s":"k10","x":76,"y":42},{"s":"k10","x":78,"y":42},{"s":"k10","x":80,"y":43.5},{"s":"k10","x":82,"y":45},{"s":"k10","x":90,"y":45.5},{"s":"k10","x":100,"y":45.8},{"s":"k10","x":120,"y":46.7},{"s":"k10","x":140,"y":46.8},{"s":"k10","x":160,"y":46.9}
],
"cm":[
{"s":"A","x":0,"y":18.5},{"s":"A","x":20,"y":36.5},{"s":"A","x":40,"y":41},{"s":"A","x":60,"y":42.5},{"s":"A","x":79,"y":56},{"s":"A","x":100,"y":59},{"s":"A","x":120,"y":60.3},{"s":"A","x":140,"y":60.5},
{"s":"m15","x":17,"y":61},{"s":"m15","x":37,"y":73},{"s":"m15","x":57,"y":76.3},{"s":"m15","x":77,"y":80},{"s":"m15","x":97,"y":83.5},{"s":"m15","x":117,"y":83.5},{"s":"m15","x":137,"y":83.5},{"s":"m15","x":157,"y":83.5},
{"s":"t15","x":7,"y":48},{"s":"t15","x":27,"y":69.8},{"s":"t15","x":47,"y":74.8},{"s":"t15","x":67,"y":78},{"s":"t15","x":87,"y":83.5},{"s":"t15","x":107,"y":83.5},{"s":"t15","x":127,"y":83.5},{"s":"t15","x":147,"y":83.5},
{"s":"k6","x":12,"y":31},{"s":"k6","x":32,"y":39},{"s":"k6","x":52,"y":41},{"s":"k6","x":72,"y":40.5},{"s":"k6","x":92,"y":49},{"s":"k6","x":112,"y":50.3},{"s":"k6","x":132,"y":50.8},{"s":"k6","x":152,"y":50.9},
{"s":"k10","x":0,"y":12.8},{"s":"k10","x":20,"y":31},{"s":"k10","x":40,"y":37.5},{"s":"k10","x":60,"y":40},{"s":"k10","x":80,"y":43.5},{"s":"k10","x":100,"y":45.8},{"s":"k10","x":120,"y":46.7},{"s":"k10","x":140,"y":46.8}
],
"e":[
{"s":"A","x":0,"y":6.5},{"s":"A","x":1,"y":4},{"s":"A","x":2,"y":2},{"s":"A","x":3,"y":4},{"s":"A","x":4,"y":6.5},{"s":"A","x":160,"y":6.5},
{"s":"m10","x":0,"y":25.2},{"s":"m10","x":2,"y":30},{"s":"m10","x":4,"y":37},{"s":"m10","x":6,"y":47},{"s":"m10","x":8,"y":51},{"s":"m10","x":10,"y":53},{"s":"m10","x":12,"y":56},{"s":"m10","x":14,"y":59},{"s":"m10","x":16,"y":61},{"s":"m10","x":18,"y":62},{"s":"m10","x":20,"y":63.2},{"s":"m10","x":22,"y":66},{"s":"m10","x":24,"y":67},{"s":"m10","x":26,"y":69},{"s":"m10","x":28,"y":69.5},{"s":"m10","x":30,"y":70},{"s":"m10","x":32,"y":69},{"s":"m10","x":34,"y":71},{"s":"m10","x":36,"y":72},{"s":"m10","x":38,"y":72},{"s":"m10","x":40,"y":72.3},{"s":"m10","x":42,"y":73},{"s":"m10","x":44,"y":74},{"s":"m10","x":46,"y":73},{"s":"m10","x":48,"y":74},{"s":"m10","x":50,"y":74},{"s":"m10","x":52,"y":73.5},{"s":"m10","x":54,"y":74},{"s":"m10","x":56,"y":74},{"s":"m10","x":58,"y":74.5},{"s":"m10","x":60,"y":75},{"s":"m10","x":62,"y":75},{"s":"m10","x":64,"y":75},{"s":"m10","x":66,"y":75.5},{"s":"m10","x":68,"y":75},{"s":"m10","x":70,"y":75},{"s":"m10","x":72,"y":75.5},{"s":"m10","x":74,"y":75},{"s":"m10","x":76,"y":75.5},{"s":"m10","x":78,"y":77},{"s":"m10","x":80,"y":80.8},{"s":"m10","x":82,"y":82.5},{"s":"m10","x":84,"y":82.7},{"s":"m10","x":120,"y":82.8},{"s":"m10","x":160,"y":82.7},
{"s":"t10","x":0,"y":27},{"s":"t10","x":2,"y":35},{"s":"t10","x":4,"y":40},{"s":"t10","x":6,"y":48},{"s":"t10","x":8,"y":51.3},{"s":"t10","x":10,"y":58},{"s":"t10","x":12,"y":58.5},{"s":"t10","x":14,"y":59.5},{"s":"t10","x":16,"y":62},{"s":"t10","x":18,"y":63},{"s":"t10","x":20,"y":64},{"s":"t10","x":22,"y":64.5},{"s":"t10","x":24,"y":66},{"s":"t10","x":26,"y":67},{"s":"t10","x":28,"y":66.2},{"s":"t10","x":30,"y":68},{"s":"t10","x":32,"y":70},{"s":"t10","x":34,"y":70.5},{"s":"t10","x":36,"y":71},{"s":"t10","x":38,"y":71.5},{"s":"t10","x":40,"y":71},{"s":"t10","x":42,"y":71},{"s":"t10","x":44,"y":72},{"s":"t10","x":46,"y":72},{"s":"t10","x":48,"y":71.4},{"s":"t10","x":50,"y":72},{"s":"t10","x":52,"y":72.5},{"s":"t10","x":54,"y":72.5},{"s":"t10","x":56,"y":73},{"s":"t10","x":58,"y":74},{"s":"t10","x":60,"y":74},{"s":"t10","x":62,"y":74},{"s":"t10","x":64,"y":74},{"s":"t10","x":66,"y":74},{"s":"t10","x":68,"y":75.2},{"s":"t10","x":70,"y":75},{"s":"t10","x":72,"y":74},{"s":"t10","x":74,"y":74},{"s":"t10","x":76,"y":73.5},{"s":"t10","x":78,"y":76},{"s":"t10","x":80,"y":81.5},{"s":"t10","x":82,"y":81.8},{"s":"t10","x":88,"y":81.7},{"s":"t10","x":108,"y":81.3},{"s":"t10","x":160,"y":81.3},
{"s":"k3","x":0,"y":10.5},{"s":"k3","x":4,"y":10.2},{"s":"k3","x":8,"y":10.4},{"s":"k3","x":12,"y":10.3},{"s":"k3","x":16,"y":10.1},{"s":"k3","x":20,"y":10.1},{"s":"k3","x":24,"y":10.5},{"s":"k3","x":28,"y":10.2},{"s":"k3","x":32,"y":10},{"s":"k3","x":36,"y":10.2},{"s":"k3","x":40,"y":10.3},{"s":"k3","x":44,"y":10.4},{"s":"k3","x":48,"y":10.6},{"s":"k3","x":52,"y":9.8},{"s":"k3","x":56,"y":10},{"s":"k3","x":60,"y":10},{"s":"k3","x":64,"y":10},{"s":"k3","x":68,"y":10.2},{"s":"k3","x":72,"y":10.6},{"s":"k3","x":74,"y":10.5},{"s":"k3","x":76,"y":12.2},{"s":"k3","x":78,"y":11.8},{"s":"k3","x":80,"y":11.5},{"s":"k3","x":92,"y":11.6},{"s":"k3","x":100,"y":11.7},{"s":"k3","x":112,"y":12.1},{"s":"k3","x":120,"y":11.9},{"s":"k3","x":132,"y":11.9},{"s":"k3","x":152,"y":12},{"s":"k3","x":160,"y":11.9},
{"s":"k8","x":0,"y":10.5},{"s":"k8","x":2,"y":11},{"s":"k8","x":4,"y":10.5},{"s":"k8","x":8,"y":10.3},{"s":"k8","x":12,"y":10.2},{"s":"k8","x":16,"y":10},{"s":"k8","x":20,"y":10.2},{"s":"k8","x":24,"y":10.5},{"s":"k8","x":30,"y":10.2},{"s":"k8","x":36,"y":9.8},{"s":"k8","x":40,"y":10},{"s":"k8","x":48,"y":10.3},{"s":"k8","x":54,"y":10},{"s":"k8","x":56,"y":10.5},{"s":"k8","x":58,"y":11},{"s":"k8","x":60,"y":11.5},{"s":"k8","x":62,"y":10.5},{"s":"k8","x":64,"y":10},{"s":"k8","x":70,"y":10},{"s":"k8","x":76,"y":10},{"s":"k8","x":160,"y":10},
{"s":"k14","x":0,"y":10.3},{"s":"k14","x":4,"y":10},{"s":"k14","x":10,"y":10},{"s":"k14","x":16,"y":10},{"s":"k14","x":20,"y":9.9},{"s":"k14","x":24,"y":10.2},{"s":"k14","x":28,"y":9.7},{"s":"k14","x":32,"y":9.8},{"s":"k14","x":36,"y":10},{"s":"k14","x":40,"y":9.7},{"s":"k14","x":44,"y":10},{"s":"k14","x":48,"y":10.2},{"s":"k14","x":52,"y":10},{"s":"k14","x":54,"y":10},{"s":"k14","x":55,"y":6.5},{"s":"k14","x":160,"y":6.5}
],
"em":[
{"s":"A","x":4,"y":6.5},{"s":"A","x":24,"y":6.5},{"s":"A","x":44,"y":6.5},{"s":"A","x":64,"y":6.5},{"s":"A","x":84,"y":6.5},{"s":"A","x":104,"y":6.5},{"s":"A","x":124,"y":6.5},{"s":"A","x":144,"y":6.5},
{"s":"m10","x":0,"y":25.2},{"s":"m10","x":20,"y":63.2},{"s":"m10","x":40,"y":72.3},{"s":"m10","x":60,"y":75},{"s":"m10","x":80,"y":80.8},{"s":"m10","x":100,"y":82.7},{"s":"m10","x":120,"y":82.8},{"s":"m10","x":140,"y":82.8},
{"s":"t10","x":8,"y":51.3},{"s":"t10","x":28,"y":66.2},{"s":"t10","x":48,"y":71.4},{"s":"t10","x":68,"y":75.2},{"s":"t10","x":88,"y":81.7},{"s":"t10","x":108,"y":81.3},{"s":"t10","x":128,"y":81.3},{"s":"t10","x":148,"y":81.3},
{"s":"k3","x":12,"y":10.3},{"s":"k3","x":32,"y":10},{"s":"k3","x":52,"y":9.8},{"s":"k3","x":72,"y":10.6},{"s":"k3","x":92,"y":11.6},{"s":"k3","x":112,"y":12.1},{"s":"k3","x":132,"y":11.9},{"s":"k3","x":152,"y":12},
{"s":"k8","x":16,"y":10},{"s":"k8","x":36,"y":9.8},{"s":"k8","x":56,"y":10.5},{"s":"k8","x":76,"y":10},{"s":"k8","x":96,"y":10},{"s":"k8","x":116,"y":10},{"s":"k8","x":136,"y":10},{"s":"k8","x":156,"y":10},
{"s":"k14","x":0,"y":10.3},{"s":"k14","x":20,"y":9.9},{"s":"k14","x":40,"y":9.7},{"s":"k14","x":60,"y":6.5},{"s":"k14","x":80,"y":6.5},{"s":"k14","x":100,"y":6.5},{"s":"k14","x":120,"y":6.5},{"s":"k14","x":140,"y":6.5}
],
"f":[
{"s":"A","x":0,"y":8},{"s":"A","x":2,"y":7},{"s":"A","x":4,"y":6.3},{"s":"A","x":160,"y":6.3},
{"s":"m15","x":0,"y":14.2},{"s":"m15","x":2,"y":25},{"s":"m15","x":4,"y":30},{"s":"m15","x":6,"y":34},{"s":"m15","x":8,"y":40},{"s":"m15","x":10,"y":44},{"s":"m15","x":12,"y":46},{"s":"m15","x":14,"y":49},{"s":"m15","x":16,"y":52},{"s":"m15","x":18,"y":54},{"s":"m15","x":20,"y":56},{"s":"m15","x":22,"y":57},{"s":"m15","x":24,"y":58},{"s":"m15","x":26,"y":59},{"s":"m15","x":28,"y":58},{"s":"m15","x":30,"y":60},{"s":"m15","x":32,"y":61},{"s":"m15","x":34,"y":61},{"s":"m15","x":36,"y":60},{"s":"m15","x":38,"y":61},{"s":"m15","x":40,"y":62.5},{"s":"m15","x":42,"y":62},{"s":"m15","x":44,"y":63},{"s":"m15","x":46,"y":63.5},{"s":"m15","x":48,"y":64},{"s":"m15","x":50,"y":64},{"s":"m15","x":52,"y":65},{"s":"m15","x":54,"y":65},{"s":"m15","x":56,"y":65},{"s":"m15","x":58,"y":65.5},{"s":"m15","x":60,"y":66},{"s":"m15","x":62,"y":65},{"s":"m15","x":64,"y":66.5},{"s":"m15","x":66,"y":66.5},{"s":"m15","x":68,"y":67},{"s":"m15","x":70,"y":66},{"s":"m15","x":72,"y":67},{"s":"m15","x":74,"y":67},{"s":"m15","x":76,"y":67},{"s":"m15","x":78,"y":68},{"s":"m15","x":80,"y":73.5},{"s":"m15","x":82,"y":74.8},{"s":"m15","x":100,"y":74.7},{"s":"m15","x":120,"y":74.2},{"s":"m15","x":140,"y":74.3},{"s":"m15","x":160,"y":74.3},
{"s":"t15","x":0,"y":12},{"s":"t15","x":2,"y":24},{"s":"t15","x":4,"y":30},{"s":"t15","x":6,"y":35},{"s":"t15","x":8,"y":40.5},{"s":"t15","x":10,"y":43},{"s":"t15","x":12,"y":45},{"s":"t15","x":14,"y":47},{"s":"t15","x":16,"y":49},{"s":"t15","x":18,"y":51},{"s":"t15","x":20,"y":53},{"s":"t15","x":22,"y":54},{"s":"t15","x":24,"y":55},{"s":"t15","x":26,"y":56},{"s":"t15","x":28,"y":56.8},{"s":"t15","x":30,"y":57},{"s":"t15","x":32,"y":57.5},{"s":"t15","x":34,"y":58},{"s":"t15","x":36,"y":58},{"s":"t15","x":38,"y":59},{"s":"t15","x":40,"y":59.5},{"s":"t15","x":42,"y":60},{"s":"t15","x":44,"y":61},{"s":"t15","x":46,"y":61.5},{"s":"t15","x":48,"y":62},{"s":"t15","x":50,"y":62.5},{"s":"t15","x":52,"y":63.5},{"s":"t15","x":54,"y":64},{"s":"t15","x":56,"y":64},{"s":"t15","x":58,"y":64},{"s":"t15","x":60,"y":64},{"s":"t15","x":62,"y":64.5},{"s":"t15","x":64,"y":65},{"s":"t15","x":66,"y":65},{"s":"t15","x":68,"y":64.5},{"s":"t15","x":70,"y":65},{"s":"t15","x":72,"y":65},{"s":"t15","x":74,"y":65.5},{"s":"t15","x":76,"y":65.5},{"s":"t15","x":78,"y":66},{"s":"t15","x":80,"y":73},{"s":"t15","x":82,"y":74},{"s":"t15","x":100,"y":74},{"s":"t15","x":108,"y":73.4},{"s":"t15","x":128,"y":73.1},{"s":"t15","x":148,"y":73.2},{"s":"t15","x":160,"y":73.1},
{"s":"k6","x":0,"y":8},{"s":"k6","x":1,"y":4},{"s":"k6","x":2,"y":2},{"s":"k6","x":3,"y":4},{"s":"k6","x":4,"y":5.8},{"s":"k6","x":160,"y":5.8},
{"s":"k10","x":0,"y":11},{"s":"k10","x":2,"y":10.8},{"s":"k10","x":4,"y":10},{"s":"k10","x":5,"y":8},{"s":"k10","x":6,"y":5.8},{"s":"k10","x":160,"y":5.8},
{"s":"k14","x":0,"y":11.2},{"s":"k14","x":2,"y":11},{"s":"k14","x":4,"y":10},{"s":"k14","x":6,"y":10},{"s":"k14","x":8,"y":11.8},{"s":"k14","x":10,"y":11},{"s":"k14","x":12,"y":10.5},{"s":"k14","x":14,"y":11},{"s":"k14","x":16,"y":11.5},{"s":"k14","x":18,"y":11},{"s":"k14","x":20,"y":11.7},{"s":"k14","x":22,"y":10.5},{"s":"k14","x":24,"y":11},{"s":"k14","x":26,"y":10},{"s":"k14","x":28,"y":9.8},{"s":"k14","x":30,"y":9.5},{"s":"k14","x":32,"y":10},{"s":"k14","x":34,"y":10},{"s":"k14","x":36,"y":9.5},{"s":"k14","x":38,"y":10},{"s":"k14","x":40,"y":8.2},{"s":"k14","x":41,"y":6},{"s":"k14","x":160,"y":6}
],
"fm":[
{"s":"A","x":4,"y":6.3},{"s":"A","x":24,"y":6.3},{"s":"A","x":44,"y":6.3},{"s":"A","x":64,"y":6.3},{"s":"A","x":84,"y":6.3},{"s":"A","x":104,"y":6.3},{"s":"A","x":124,"y":6.3},{"s":"A","x":144,"y":6.3},
{"s":"m15","x":0,"y":14.2},{"s":"m15","x":20,"y":56},{"s":"m15","x":40,"y":62.5},{"s":"m15","x":60,"y":66},{"s":"m15","x":80,"y":73.5},{"s":"m15","x":100,"y":74.7},{"s":"m15","x":120,"y":74.2},{"s":"m15","x":140,"y":74.3},
{"s":"t15","x":8,"y":40.5},{"s":"t15","x":28,"y":56.8},{"s":"t15","x":48,"y":62},{"s":"t15","x":68,"y":64.5},{"s":"t15","x":88,"y":74},{"s":"t15","x":108,"y":73.4},{"s":"t15","x":128,"y":73.1},{"s":"t15","x":148,"y":73.2},
{"s":"k6","x":12,"y":5.8},{"s":"k6","x":32,"y":5.8},{"s":"k6","x":52,"y":5.8},{"s":"k6","x":72,"y":5.8},{"s":"k6","x":92,"y":5.8},{"s":"k6","x":112,"y":5.8},{"s":"k6","x":132,"y":5.8},{"s":"k6","x":152,"y":5.8},
{"s":"k10","x":16,"y":5.8},{"s":"k10","x":36,"y":5.8},{"s":"k10","x":56,"y":5.8},{"s":"k10","x":76,"y":5.8},{"s":"k10","x":96,"y":5.8},{"s":"k10","x":116,"y":5.8},{"s":"k10","x":136,"y":5.8},{"s":"k10","x":156,"y":5.8},
{"s":"k14","x":0,"y":11.2},{"s":"k14","x":20,"y":11.7},{"s":"k14","x":40,"y":8.2},{"s":"k14","x":60,"y":6},{"s":"k14","x":80,"y":6},{"s":"k14","x":100,"y":6},{"s":"k14","x":120,"y":6},{"s":"k14","x":140,"y":6}
]
},
"columns":3,
"spacing":{"row":122,"column":109},
"bounds":"flush",
"concat":[
{"width":312,"height":245,
"title":{"text":"(a) no attack","orient":"bottom","frame":"group","dx":-8,"offset":16},
"encoding":{"x":{"field":"x","type":"quantitative","scale":{"domain":[0,160],"nice":false},"axis":{"values":[0,20,40,60,80,100,120,140,160],"title":"Epoch"}},"y":{"field":"y","type":"quantitative","scale":{"domain":[40,95],"nice":false,"zero":false},"axis":{"values":[40,45,50,55,60,65,70,75,80,85,90,95],"title":"Average Top-1 Accuracy"}}},
"resolve":{"scale":{"stroke":"independent","fill":"independent","shape":"independent","strokeDash":"independent"}},
"layer":[
{"data":{"name":"a"},"mark":{"type":"line","clip":true,"strokeWidth":1.2},
"encoding":{"stroke":{"field":"s","type":"nominal","legend":null,"scale":{"domain":["A","m5","m10","m15","m30","k2","k10"],"range":["#F7A21B","#128A12","#0000FF","#FF0000","#8A2BE2","#000000","#136B6B"]}},"strokeDash":{"field":"s","type":"nominal","legend":null,"scale":{"domain":["A","m5","m10","m15","m30","k2","k10"],"range":[[1.5,2],[1,0],[1,0],[1,0],[1,0],[1.5,2],[1.5,2]]}}}},
{"data":{"name":"am"},"mark":{"type":"point","clip":true,"size":42,"strokeWidth":1.2,"opacity":1},
"encoding":{"stroke":{"field":"s","type":"nominal","legend":null,"scale":{"domain":["A","m5","m10","m15","m30","k2","k10"],"range":["#F7A21B","#128A12","#0000FF","#FF0000","#8A2BE2","#000000","#136B6B"]}},"fill":{"field":"s","type":"nominal","legend":null,"scale":{"domain":["A","m5","m10","m15","m30","k2","k10"],"range":["transparent","transparent","transparent","#FF0000","transparent","transparent","transparent"]}},"shape":{"field":"s","type":"nominal","legend":null,"scale":{"domain":["A","m5","m10","m15","m30","k2","k10"],"range":["square","M0,-1.2L0.9,0L0,1.2L-0.9,0Z","M-0.9,-0.9L0.9,0.9M-0.9,0.9L0.9,-0.9","M0.7,0L0.606,0.35L0.35,0.606L0,0.7L-0.35,0.606L-0.606,0.35L-0.7,0L-0.606,-0.35L-0.35,-0.606L0,-0.7L0.35,-0.606L0.606,-0.35Z","circle","M0,-1.3L0.375,-0.65L1.126,-0.65L0.75,0L1.126,0.65L0.375,0.65L0,1.3L-0.375,0.65L-1.126,0.65L-0.75,0L-1.126,-0.65L-0.375,-0.65Z","M0,-1.4L0.314,-0.433L1.331,-0.433L0.508,0.165L0.823,1.133L0,0.535L-0.823,1.133L-0.508,0.165L-1.331,-0.433L-0.314,-0.433Z"]}}}},
{"data":{"name":"am"},"transform":[{"filter":"false"}],"mark":{"type":"point","size":144,"strokeWidth":1.2,"opacity":1},
"encoding":{"stroke":{"field":"s","type":"nominal","scale":{"domain":["A","m5","m10","m15","m30","k2","k10"],"range":["#F7A21B","#128A12","#0000FF","#FF0000","#8A2BE2","#000000","#136B6B"]}},"fill":{"field":"s","type":"nominal","scale":{"domain":["A","m5","m10","m15","m30","k2","k10"],"range":["transparent","transparent","transparent","#FF0000","transparent","transparent","transparent"]}},"shape":{"field":"s","type":"nominal","legend":{"orient":"none","legendX":113,"legendY":128,"title":null,"labelExpr":"{'A':'ASGD','m5':'BASGD with median (B=5)','m10':'BASGD with median (B=10)','m15':'BASGD with median (B=15)','m30':'BASGD with median (B=30)','k2':'Kardam (γ=2)','k10':'Kardam (γ=10)'}[datum.label]"},"scale":{"domain":["A","m5","m10","m15","m30","k2","k10"],"range":["M-2.05,0h0.22m0.26,0h0.22m0.26,0h0.22m0.26,0h0.22m0.26,0h0.22m0.26,0h0.22m0.26,0h0.22m0.26,0h0.22m0.26,0h0.22M-0.5,-0.5H0.5V0.5H-0.5Z","M-2.05,0H2.05M0,-0.65L0.5,0L0,0.65L-0.5,0Z","M-2.05,0H2.05M-0.45,-0.45L0.45,0.45M-0.45,0.45L0.45,-0.45","M-2.05,0H2.05M0.4,0L0.346,0.2L0.2,0.346L0,0.4L-0.2,0.346L-0.346,0.2L-0.4,0L-0.346,-0.2L-0.2,-0.346L0,-0.4L0.2,-0.346L0.346,-0.2Z","M-2.05,0H2.05M0.55,0L0.476,0.275L0.275,0.476L0,0.55L-0.275,0.476L-0.476,0.275L-0.55,0L-0.476,-0.275L-0.275,-0.476L0,-0.55L0.275,-0.476L0.476,-0.275Z","M-2.05,0h0.22m0.26,0h0.22m0.26,0h0.22m0.26,0h0.22m0.26,0h0.22m0.26,0h0.22m0.26,0h0.22m0.26,0h0.22m0.26,0h0.22M0,-0.65L0.188,-0.325L0.563,-0.325L0.375,0L0.563,0.325L0.188,0.325L0,0.65L-0.188,0.325L-0.563,0.325L-0.375,0L-0.563,-0.325L-0.188,-0.325Z","M-2.05,0h0.22m0.26,0h0.22m0.26,0h0.22m0.26,0h0.22m0.26,0h0.22m0.26,0h0.22m0.26,0h0.22m0.26,0h0.22m0.26,0h0.22M0,-0.7L0.157,-0.216L0.666,-0.216L0.254,0.083L0.411,0.566L0,0.267L-0.411,0.566L-0.254,0.083L-0.666,-0.216L-0.157,-0.216Z"]}}}}
]},
{"width":312,"height":245,
"title":{"text":"(b) 3 Byzantine workers (RD-attack)","orient":"bottom","frame":"group","dx":-14,"offset":16},
"encoding":{"x":{"field":"x","type":"quantitative","scale":{"domain":[0,160],"nice":false},"axis":{"values":[0,20,40,60,80,100,120,140,160],"title":"Epoch"}},"y":{"field":"y","type":"quantitative","scale":{"domain":[0,90],"nice":false},"axis":{"values":[0,10,20,30,40,50,60,70,80,90],"title":"Average Top-1 Accuracy"}}},
"resolve":{"scale":{"stroke":"independent","fill":"independent","shape":"independent","strokeDash":"independent"}},
"layer":[
{"data":{"name":"b"},"mark":{"type":"line","clip":true,"strokeWidth":1.2},
"encoding":{"stroke":{"field":"s","type":"nominal","legend":null,"scale":{"domain":["A","m10","t10","k3","k6"],"range":["#F7A21B","#0000FF","#FF0000","#8A2BE2","#136B6B"]}}}},
{"data":{"name":"bm"},"mark":{"type":"point","clip":true,"size":42,"strokeWidth":1.2,"opacity":1},
"encoding":{"stroke":{"field":"s","type":"nominal","legend":null,"scale":{"domain":["A","m10","t10","k3","k6"],"range":["#F7A21B","#0000FF","#FF0000","#8A2BE2","#136B6B"]}},"fill":{"field":"s","type":"nominal","legend":null,"scale":{"domain":["A","m10","t10","k3","k6"],"range":["transparent","transparent","transparent","transparent","#136B6B"]}},"shape":{"field":"s","type":"nominal","legend":null,"scale":{"domain":["A","m10","t10","k3","k6"],"range":["M-1.1,-1.1H1.1V1.1H-1.1Z","M-0.9,-0.9L0.9,0.9M-0.9,0.9L0.9,-0.9","M-1.1,0H1.1M0,-1.1V1.1M-0.8,-0.8L0.8,0.8M-0.8,0.8L0.8,-0.8","M0,-1.3L1.2,0.9H-1.2Z","M0,-1.4L0.314,-0.433L1.331,-0.433L0.508,0.165L0.823,1.133L0,0.535L-0.823,1.133L-0.508,0.165L-1.331,-0.433L-0.314,-0.433Z"]}}}},
{"data":{"name":"bm"},"transform":[{"filter":"false"}],"mark":{"type":"point","size":144,"strokeWidth":1.2,"opacity":1},
"encoding":{"stroke":{"field":"s","type":"nominal","scale":{"domain":["A","m10","t10","k3","k6"],"range":["#F7A21B","#0000FF","#FF0000","#8A2BE2","#136B6B"]}},"fill":{"field":"s","type":"nominal","scale":{"domain":["A","m10","t10","k3","k6"],"range":["transparent","transparent","transparent","transparent","#136B6B"]}},"shape":{"field":"s","type":"nominal","legend":{"orient":"none","legendX":88,"legendY":158,"title":null,"labelExpr":"{'A':'ASGD','m10':'BASGD with median (B=10)','t10':'BASGD with trmean (B=10, q=3)','k3':'Kardam (γ=3)','k6':'Kardam (γ=6)'}[datum.label]"},"scale":{"domain":["A","m10","t10","k3","k6"],"range":["M-2.05,0H2.05M-0.55,-0.55H0.55V0.55H-0.55Z","M-2.05,0H2.05M-0.45,-0.45L0.45,0.45M-0.45,0.45L0.45,-0.45","M-2.05,0H2.05M0,-0.55V0.55M-0.4,-0.4L0.4,0.4M-0.4,0.4L0.4,-0.4","M-2.05,0H2.05M0,-0.65L0.6,0.5H-0.6Z","M-2.05,0H2.05M0,-0.7L0.157,-0.216L0.666,-0.216L0.254,0.083L0.411,0.566L0,0.267L-0.411,0.566L-0.254,0.083L-0.666,-0.216L-0.157,-0.216Z"]}}}}
]},
{"width":312,"height":245,
"title":{"text":"(c) 6 Byzantine workers (RD-attack)","orient":"bottom","frame":"group","dx":-10,"offset":16},
"encoding":{"x":{"field":"x","type":"quantitative","scale":{"domain":[0,160],"nice":false},"axis":{"values":[0,20,40,60,80,100,120,140,160],"title":"Epoch"}},"y":{"field":"y","type":"quantitative","scale":{"domain":[0,90],"nice":false},"axis":{"values":[0,10,20,30,40,50,60,70,80,90],"title":"Average Top-1 Accuracy"}}},
"resolve":{"scale":{"stroke":"independent","fill":"independent","shape":"independent","strokeDash":"independent"}},
"layer":[
{"data":{"name":"c"},"mark":{"type":"line","clip":true,"strokeWidth":1.2},
"encoding":{"stroke":{"field":"s","type":"nominal","legend":null,"scale":{"domain":["A","m15","t15","k6","k10"],"range":["#F7A21B","#0000FF","#FF0000","#8A2BE2","#136B6B"]}}}},
{"data":{"name":"cm"},"mark":{"type":"point","clip":true,"size":42,"strokeWidth":1.2,"opacity":1},
"encoding":{"stroke":{"field":"s","type":"nominal","legend":null,"scale":{"domain":["A","m15","t15","k6","k10"],"range":["#F7A21B","#0000FF","#FF0000","#8A2BE2","#136B6B"]}},"fill":{"field":"s","type":"nominal","legend":null,"scale":{"domain":["A","m15","t15","k6","k10"],"range":["transparent","transparent","transparent","transparent","#136B6B"]}},"shape":{"field":"s","type":"nominal","legend":null,"scale":{"domain":["A","m15","t15","k6","k10"],"range":["M-1.1,-1.1H1.1V1.1H-1.1Z","M-0.9,-0.9L0.9,0.9M-0.9,0.9L0.9,-0.9","M-1.1,0H1.1M0,-1.1V1.1M-0.8,-0.8L0.8,0.8M-0.8,0.8L0.8,-0.8","M0,-1.3L1.2,0.9H-1.2Z","M0,-1.4L0.314,-0.433L1.331,-0.433L0.508,0.165L0.823,1.133L0,0.535L-0.823,1.133L-0.508,0.165L-1.331,-0.433L-0.314,-0.433Z"]}}}},
{"data":{"name":"cm"},"transform":[{"filter":"false"}],"mark":{"type":"point","size":144,"strokeWidth":1.2,"opacity":1},
"encoding":{"stroke":{"field":"s","type":"nominal","scale":{"domain":["A","m15","t15","k6","k10"],"range":["#F7A21B","#0000FF","#FF0000","#8A2BE2","#136B6B"]}},"fill":{"field":"s","type":"nominal","scale":{"domain":["A","m15","t15","k6","k10"],"range":["transparent","transparent","transparent","transparent","#136B6B"]}},"shape":{"field":"s","type":"nominal","legend":{"orient":"none","legendX":89,"legendY":158,"title":null,"labelExpr":"{'A':'ASGD','m15':'BASGD with median (B=15)','t15':'BASGD with trmean (B=15, q=6)','k6':'Kardam (γ=6)','k10':'Kardam (γ=10)'}[datum.label]"},"scale":{"domain":["A","m15","t15","k6","k10"],"range":["M-2.05,0H2.05M-0.55,-0.55H0.55V0.55H-0.55Z","M-2.05,0H2.05M-0.45,-0.45L0.45,0.45M-0.45,0.45L0.45,-0.45","M-2.05,0H2.05M0,-0.55V0.55M-0.4,-0.4L0.4,0.4M-0.4,0.4L0.4,-0.4","M-2.05,0H2.05M0,-0.65L0.6,0.5H-0.6Z","M-2.05,0H2.05M0,-0.7L0.157,-0.216L0.666,-0.216L0.254,0.083L0.411,0.566L0,0.267L-0.411,0.566L-0.254,0.083L-0.666,-0.216L-0.157,-0.216Z"]}}}}
]},
{"width":312,"height":245,
"title":{"text":"(d) no attack","orient":"bottom","frame":"group","dx":-8,"offset":16},
"encoding":{"x":{"field":"x","type":"quantitative","scale":{"domain":[0,160],"nice":false},"axis":{"values":[0,20,40,60,80,100,120,140,160],"title":"Epoch"}},"y":{"field":"y","type":"quantitative","scale":{"domain":[40,95],"nice":false,"zero":false},"axis":{"values":[40,45,50,55,60,65,70,75,80,85,90,95],"title":"Average Top-1 Accuracy"}}},
"resolve":{"scale":{"stroke":"independent","fill":"independent","shape":"independent","strokeDash":"independent"}},
"layer":[
{"data":{"name":"d"},"mark":{"type":"line","clip":true,"strokeWidth":1.2},
"encoding":{"stroke":{"field":"s","type":"nominal","legend":null,"scale":{"domain":["A","t5","t10","t15","t30","k2","k10"],"range":["#F7A21B","#128A12","#0000FF","#FF0000","#8A2BE2","#000000","#136B6B"]}},"strokeDash":{"field":"s","type":"nominal","legend":null,"scale":{"domain":["A","t5","t10","t15","t30","k2","k10"],"range":[[1.5,2],[1,0],[1,0],[1,0],[1,0],[1.5,2],[1.5,2]]}}}},
{"data":{"name":"dm"},"mark":{"type":"point","clip":true,"size":42,"strokeWidth":1.2,"opacity":1},
"encoding":{"stroke":{"field":"s","type":"nominal","legend":null,"scale":{"domain":["A","t5","t10","t15","t30","k2","k10"],"range":["#F7A21B","#128A12","#0000FF","#FF0000","#8A2BE2","#000000","#136B6B"]}},"fill":{"field":"s","type":"nominal","legend":null,"scale":{"domain":["A","t5","t10","t15","t30","k2","k10"],"range":["transparent","transparent","transparent","#FF0000","transparent","transparent","transparent"]}},"shape":{"field":"s","type":"nominal","legend":null,"scale":{"domain":["A","t5","t10","t15","t30","k2","k10"],"range":["square","M0,-1.2L0.9,0L0,1.2L-0.9,0Z","M-0.9,-0.9L0.9,0.9M-0.9,0.9L0.9,-0.9","M0.7,0L0.606,0.35L0.35,0.606L0,0.7L-0.35,0.606L-0.606,0.35L-0.7,0L-0.606,-0.35L-0.35,-0.606L0,-0.7L0.35,-0.606L0.606,-0.35Z","circle","M0,-1.3L0.375,-0.65L1.126,-0.65L0.75,0L1.126,0.65L0.375,0.65L0,1.3L-0.375,0.65L-1.126,0.65L-0.75,0L-1.126,-0.65L-0.375,-0.65Z","M0,-1.4L0.314,-0.433L1.331,-0.433L0.508,0.165L0.823,1.133L0,0.535L-0.823,1.133L-0.508,0.165L-1.331,-0.433L-0.314,-0.433Z"]}}}},
{"data":{"name":"dm"},"transform":[{"filter":"false"}],"mark":{"type":"point","size":144,"strokeWidth":1.2,"opacity":1},
"encoding":{"stroke":{"field":"s","type":"nominal","scale":{"domain":["A","t5","t10","t15","t30","k2","k10"],"range":["#F7A21B","#128A12","#0000FF","#FF0000","#8A2BE2","#000000","#136B6B"]}},"fill":{"field":"s","type":"nominal","scale":{"domain":["A","t5","t10","t15","t30","k2","k10"],"range":["transparent","transparent","transparent","#FF0000","transparent","transparent","transparent"]}},"shape":{"field":"s","type":"nominal","legend":{"orient":"none","legendX":81,"legendY":126,"title":null,"labelExpr":"{'A':'ASGD','t5':'BASGD with trmean (B=5, q=1)','t10':'BASGD with trmean (B=10, q=3)','t15':'BASGD with trmean (B=15, q=5)','t30':'BASGD with trmean (B=30, q=10)','k2':'Kardam (γ=2)','k10':'Kardam (γ=10)'}[datum.label]"},"scale":{"domain":["A","t5","t10","t15","t30","k2","k10"],"range":["M-2.05,0h0.22m0.26,0h0.22m0.26,0h0.22m0.26,0h0.22m0.26,0h0.22m0.26,0h0.22m0.26,0h0.22m0.26,0h0.22m0.26,0h0.22M-0.5,-0.5H0.5V0.5H-0.5Z","M-2.05,0H2.05M0,-0.65L0.5,0L0,0.65L-0.5,0Z","M-2.05,0H2.05M-0.45,-0.45L0.45,0.45M-0.45,0.45L0.45,-0.45","M-2.05,0H2.05M0.4,0L0.346,0.2L0.2,0.346L0,0.4L-0.2,0.346L-0.346,0.2L-0.4,0L-0.346,-0.2L-0.2,-0.346L0,-0.4L0.2,-0.346L0.346,-0.2Z","M-2.05,0H2.05M0.55,0L0.476,0.275L0.275,0.476L0,0.55L-0.275,0.476L-0.476,0.275L-0.55,0L-0.476,-0.275L-0.275,-0.476L0,-0.55L0.275,-0.476L0.476,-0.275Z","M-2.05,0h0.22m0.26,0h0.22m0.26,0h0.22m0.26,0h0.22m0.26,0h0.22m0.26,0h0.22m0.26,0h0.22m0.26,0h0.22m0.26,0h0.22M0,-0.65L0.188,-0.325L0.563,-0.325L0.375,0L0.563,0.325L0.188,0.325L0,0.65L-0.188,0.325L-0.563,0.325L-0.375,0L-0.563,-0.325L-0.188,-0.325Z","M-2.05,0h0.22m0.26,0h0.22m0.26,0h0.22m0.26,0h0.22m0.26,0h0.22m0.26,0h0.22m0.26,0h0.22m0.26,0h0.22m0.26,0h0.22M0,-0.7L0.157,-0.216L0.666,-0.216L0.254,0.083L0.411,0.566L0,0.267L-0.411,0.566L-0.254,0.083L-0.666,-0.216L-0.157,-0.216Z"]}}}}
]},
{"width":312,"height":245,
"title":{"text":"(e) 3 Byzantine workers (NG-attack)","orient":"bottom","frame":"group","dx":-14,"offset":16},
"encoding":{"x":{"field":"x","type":"quantitative","scale":{"domain":[0,160],"nice":false},"axis":{"values":[0,20,40,60,80,100,120,140,160],"title":"Epoch"}},"y":{"field":"y","type":"quantitative","scale":{"domain":[0,90],"nice":false},"axis":{"values":[0,10,20,30,40,50,60,70,80,90],"title":"Average Top-1 Accuracy"}}},
"resolve":{"scale":{"stroke":"independent","fill":"independent","shape":"independent","strokeDash":"independent"}},
"layer":[
{"data":{"name":"e"},"mark":{"type":"line","clip":true,"strokeWidth":1.2},
"encoding":{"stroke":{"field":"s","type":"nominal","legend":null,"scale":{"domain":["A","m10","t10","k3","k8","k14"],"range":["#F7A21B","#0000FF","#FF0000","#139013","#8A2BE2","#000000"]}}}},
{"data":{"name":"em"},"mark":{"type":"point","clip":true,"size":42,"strokeWidth":1.2,"opacity":1},
"encoding":{"stroke":{"field":"s","type":"nominal","legend":null,"scale":{"domain":["A","m10","t10","k3","k8","k14"],"range":["#F7A21B","#0000FF","#FF0000","#139013","#8A2BE2","#000000"]}},"fill":{"field":"s","type":"nominal","legend":null,"scale":{"domain":["A","m10","t10","k3","k8","k14"],"range":["transparent","transparent","transparent","#139013","transparent","#000000"]}},"shape":{"field":"s","type":"nominal","legend":null,"scale":{"domain":["A","m10","t10","k3","k8","k14"],"range":["M-0.8,-0.8H0.8V0.8H-0.8Z","M0,-1.2L0.9,0L0,1.2L-0.9,0Z","M-0.7,-0.7L0.7,0.7M-0.7,0.7L0.7,-0.7","M0.8,0L0.693,0.4L0.4,0.693L0,0.8L-0.4,0.693L-0.693,0.4L-0.8,0L-0.693,-0.4L-0.4,-0.693L0,-0.8L0.4,-0.693L0.693,-0.4Z","circle","M0,-1.4L0.314,-0.433L1.331,-0.433L0.508,0.165L0.823,1.133L0,0.535L-0.823,1.133L-0.508,0.165L-1.331,-0.433L-0.314,-0.433Z"]}}}},
{"data":{"name":"em"},"transform":[{"filter":"false"}],"mark":{"type":"point","size":144,"strokeWidth":1.2,"opacity":1},
"encoding":{"stroke":{"field":"s","type":"nominal","scale":{"domain":["A","m10","t10","k3","k8","k14"],"range":["#F7A21B","#0000FF","#FF0000","#139013","#8A2BE2","#000000"]}},"fill":{"field":"s","type":"nominal","scale":{"domain":["A","m10","t10","k3","k8","k14"],"range":["transparent","transparent","transparent","#139013","transparent","#000000"]}},"shape":{"field":"s","type":"nominal","legend":{"orient":"none","legendX":88,"legendY":73,"title":null,"labelExpr":"{'A':'ASGD','m10':'BASGD with median (B=10)','t10':'BASGD with trmean (B=10, q=3)','k3':'Kardam (γ=3)','k8':'Kardam (γ=8)','k14':'Kardam (γ=14)'}[datum.label]"},"scale":{"domain":["A","m10","t10","k3","k8","k14"],"range":["M-2.05,0H2.05M-0.4,-0.4H0.4V0.4H-0.4Z","M-2.05,0H2.05M0,-0.65L0.5,0L0,0.65L-0.5,0Z","M-2.05,0H2.05M-0.4,-0.4L0.4,0.4M-0.4,0.4L0.4,-0.4","M-2.05,0H2.05M0.4,0L0.346,0.2L0.2,0.346L0,0.4L-0.2,0.346L-0.346,0.2L-0.4,0L-0.346,-0.2L-0.2,-0.346L0,-0.4L0.2,-0.346L0.346,-0.2Z","M-2.05,0H2.05M0.55,0L0.476,0.275L0.275,0.476L0,0.55L-0.275,0.476L-0.476,0.275L-0.55,0L-0.476,-0.275L-0.275,-0.476L0,-0.55L0.275,-0.476L0.476,-0.275Z","M-2.05,0H2.05M0,-0.7L0.157,-0.216L0.666,-0.216L0.254,0.083L0.411,0.566L0,0.267L-0.411,0.566L-0.254,0.083L-0.666,-0.216L-0.157,-0.216Z"]}}}}
]},
{"width":312,"height":245,
"title":{"text":"(f) 6 Byzantine workers (NG-attack)","orient":"bottom","frame":"group","dx":-10,"offset":16},
"encoding":{"x":{"field":"x","type":"quantitative","scale":{"domain":[0,160],"nice":false},"axis":{"values":[0,20,40,60,80,100,120,140,160],"title":"Epoch"}},"y":{"field":"y","type":"quantitative","scale":{"domain":[0,90],"nice":false},"axis":{"values":[0,10,20,30,40,50,60,70,80,90],"title":"Average Top-1 Accuracy"}}},
"resolve":{"scale":{"stroke":"independent","fill":"independent","shape":"independent","strokeDash":"independent"}},
"layer":[
{"data":{"name":"f"},"mark":{"type":"line","clip":true,"strokeWidth":1.2},
"encoding":{"stroke":{"field":"s","type":"nominal","legend":null,"scale":{"domain":["A","m15","t15","k6","k10","k14"],"range":["#F7A21B","#0000FF","#FF0000","#139013","#8A2BE2","#000000"]}}}},
{"data":{"name":"fm"},"mark":{"type":"point","clip":true,"size":42,"strokeWidth":1.2,"opacity":1},
"encoding":{"stroke":{"field":"s","type":"nominal","legend":null,"scale":{"domain":["A","m15","t15","k6","k10","k14"],"range":["#F7A21B","#0000FF","#FF0000","#139013","#8A2BE2","#000000"]}},"fill":{"field":"s","type":"nominal","legend":null,"scale":{"domain":["A","m15","t15","k6","k10","k14"],"range":["transparent","transparent","transparent","#139013","transparent","#000000"]}},"shape":{"field":"s","type":"nominal","legend":null,"scale":{"domain":["A","m15","t15","k6","k10","k14"],"range":["M-0.8,-0.8H0.8V0.8H-0.8Z","M0,-1.2L0.9,0L0,1.2L-0.9,0Z","M-0.7,-0.7L0.7,0.7M-0.7,0.7L0.7,-0.7","M0.8,0L0.693,0.4L0.4,0.693L0,0.8L-0.4,0.693L-0.693,0.4L-0.8,0L-0.693,-0.4L-0.4,-0.693L0,-0.8L0.4,-0.693L0.693,-0.4Z","circle","M0,-1.4L0.314,-0.433L1.331,-0.433L0.508,0.165L0.823,1.133L0,0.535L-0.823,1.133L-0.508,0.165L-1.331,-0.433L-0.314,-0.433Z"]}}}},
{"data":{"name":"fm"},"transform":[{"filter":"false"}],"mark":{"type":"point","size":144,"strokeWidth":1.2,"opacity":1},
"encoding":{"stroke":{"field":"s","type":"nominal","scale":{"domain":["A","m15","t15","k6","k10","k14"],"range":["#F7A21B","#0000FF","#FF0000","#139013","#8A2BE2","#000000"]}},"fill":{"field":"s","type":"nominal","scale":{"domain":["A","m15","t15","k6","k10","k14"],"range":["transparent","transparent","transparent","#139013","transparent","#000000"]}},"shape":{"field":"s","type":"nominal","legend":{"orient":"none","legendX":89,"legendY":92,"title":null,"labelExpr":"{'A':'ASGD','m15':'BASGD with median (B=15)','t15':'BASGD with trmean (B=15, q=6)','k6':'Kardam (γ=6)','k10':'Kardam (γ=10)','k14':'Kardam (γ=14)'}[datum.label]"},"scale":{"domain":["A","m15","t15","k6","k10","k14"],"range":["M-2.05,0H2.05M-0.4,-0.4H0.4V0.4H-0.4Z","M-2.05,0H2.05M0,-0.65L0.5,0L0,0.65L-0.5,0Z","M-2.05,0H2.05M-0.4,-0.4L0.4,0.4M-0.4,0.4L0.4,-0.4","M-2.05,0H2.05M0.4,0L0.346,0.2L0.2,0.346L0,0.4L-0.2,0.346L-0.346,0.2L-0.4,0L-0.346,-0.2L-0.2,-0.346L0,-0.4L0.2,-0.346L0.346,-0.2Z","M-2.05,0H2.05M0.55,0L0.476,0.275L0.275,0.476L0,0.55L-0.275,0.476L-0.476,0.275L-0.55,0L-0.476,-0.275L-0.275,-0.476L0,-0.55L0.275,-0.476L0.476,-0.275Z","M-2.05,0H2.05M0,-0.7L0.157,-0.216L0.666,-0.216L0.254,0.083L0.411,0.566L0,0.267L-0.411,0.566L-0.254,0.083L-0.666,-0.216L-0.157,-0.216Z"]}}}}
]}
]
}
